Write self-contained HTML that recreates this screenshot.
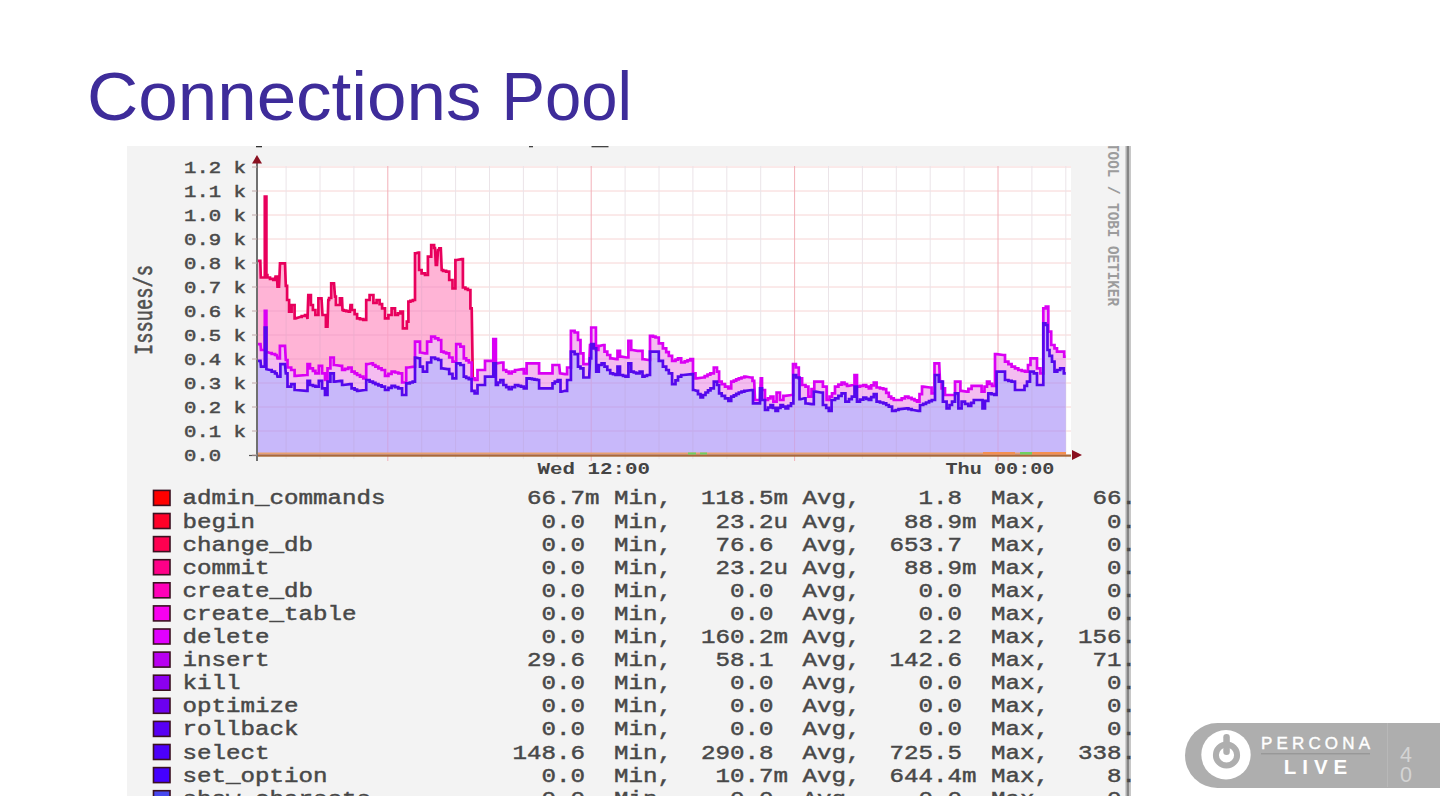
<!DOCTYPE html>
<html><head><meta charset="utf-8"><style>
html,body{margin:0;padding:0;background:#fff;width:1440px;height:811px;overflow:hidden}
svg{position:absolute;left:0;top:0}
.hg{stroke:#f7d4d4;stroke-width:1}
.vg{stroke:#ebe4e8;stroke-width:1}
.vgM{stroke:#f2b0b8;stroke-width:1}
.yl{font-family:"Liberation Mono",monospace;font-size:17px;fill:#4a4a4a;stroke:#4a4a4a;stroke-width:0.5}
.lg{font-family:"Liberation Mono",monospace;font-size:20px;fill:#484848;stroke:#484848;stroke-width:0.45}
.xl{font-family:"Liberation Mono",monospace;font-size:17px;font-weight:bold;fill:#444}
</style></head><body>
<svg width="1440" height="811" viewBox="0 0 1440 811">
<text x="87" y="120" font-family="Liberation Sans" font-size="68" fill="#3e2c9a" textLength="394.5" lengthAdjust="spacingAndGlyphs">Connections</text><text x="501.5" y="120" font-family="Liberation Sans" font-size="68" fill="#3e2c9a" textLength="130.5" lengthAdjust="spacingAndGlyphs">Pool</text>
<clipPath id="cb"><rect x="127" y="146" width="1004" height="650"/></clipPath>
<g clip-path="url(#cb)"><g>
<rect x="127" y="146" width="1004" height="650" fill="#f3f3f3"/>
<rect x="257" y="166" width="814" height="289" fill="#ffffff"/>
<line x1="257" y1="431" x2="1071" y2="431" class="hg"/>
<line x1="257" y1="407" x2="1071" y2="407" class="hg"/>
<line x1="257" y1="383" x2="1071" y2="383" class="hg"/>
<line x1="257" y1="359" x2="1071" y2="359" class="hg"/>
<line x1="257" y1="335" x2="1071" y2="335" class="hg"/>
<line x1="257" y1="311" x2="1071" y2="311" class="hg"/>
<line x1="257" y1="287" x2="1071" y2="287" class="hg"/>
<line x1="257" y1="263" x2="1071" y2="263" class="hg"/>
<line x1="257" y1="239" x2="1071" y2="239" class="hg"/>
<line x1="257" y1="215" x2="1071" y2="215" class="hg"/>
<line x1="257" y1="191" x2="1071" y2="191" class="hg"/>
<line x1="257" y1="167" x2="1071" y2="167" class="hg"/>
<line x1="286.1" y1="166" x2="286.1" y2="459" class="vg"/>
<line x1="320.0" y1="166" x2="320.0" y2="459" class="vg"/>
<line x1="353.9" y1="166" x2="353.9" y2="459" class="vg"/>
<line x1="387.8" y1="166" x2="387.8" y2="461" class="vgM"/>
<line x1="421.7" y1="166" x2="421.7" y2="459" class="vg"/>
<line x1="455.6" y1="166" x2="455.6" y2="459" class="vg"/>
<line x1="489.5" y1="166" x2="489.5" y2="459" class="vg"/>
<line x1="523.4" y1="166" x2="523.4" y2="459" class="vg"/>
<line x1="557.3" y1="166" x2="557.3" y2="459" class="vg"/>
<line x1="591.2" y1="166" x2="591.2" y2="461" class="vgM"/>
<line x1="625.1" y1="166" x2="625.1" y2="459" class="vg"/>
<line x1="659.0" y1="166" x2="659.0" y2="459" class="vg"/>
<line x1="692.9" y1="166" x2="692.9" y2="459" class="vg"/>
<line x1="726.8" y1="166" x2="726.8" y2="459" class="vg"/>
<line x1="760.7" y1="166" x2="760.7" y2="459" class="vg"/>
<line x1="794.6" y1="166" x2="794.6" y2="461" class="vgM"/>
<line x1="828.5" y1="166" x2="828.5" y2="459" class="vg"/>
<line x1="862.4" y1="166" x2="862.4" y2="459" class="vg"/>
<line x1="896.3" y1="166" x2="896.3" y2="459" class="vg"/>
<line x1="930.2" y1="166" x2="930.2" y2="459" class="vg"/>
<line x1="964.1" y1="166" x2="964.1" y2="459" class="vg"/>
<line x1="998.0" y1="166" x2="998.0" y2="461" class="vgM"/>
<line x1="1031.9" y1="166" x2="1031.9" y2="459" class="vg"/>
<line x1="1065.8" y1="166" x2="1065.8" y2="459" class="vg"/>
<polygon points="257.5,455.0 257.5,360.8 260.5,360.8 261.0,366.7 264.8,366.7 264.8,327.5 266.4,327.5 266.4,369.2 270.0,370.0 271.7,370.0 271.7,371.6 275.0,371.6 275.0,373.3 276.7,373.3 277.5,376.7 279.0,376.7 280.4,376.7 280.4,364.2 281.7,364.2 285.0,364.2 285.8,373.3 287.5,373.3 287.5,386.7 289.2,386.7 291.2,386.7 291.2,384.2 293.3,384.2 294.6,384.2 294.6,390.0 295.8,390.0 306.7,390.8 307.5,390.8 307.5,380.8 308.3,380.8 310.0,380.8 310.0,385.0 311.7,385.0 312.9,385.0 312.9,385.9 315.4,385.9 315.4,386.7 316.7,386.7 318.8,386.7 318.8,380.8 320.8,380.8 322.1,380.8 322.1,388.3 323.3,388.3 325.0,388.3 325.0,395.0 326.7,395.0 327.5,395.0 327.5,381.7 328.3,381.7 330.4,381.7 330.4,373.3 332.5,373.3 333.8,373.3 333.8,381.7 335.0,381.7 340.8,380.8 342.1,380.8 342.1,385.0 343.3,385.0 350.0,384.2 351.6,384.2 351.6,388.3 353.3,388.3 354.6,388.3 354.6,389.6 357.1,389.6 357.1,390.8 358.3,390.8 365.0,390.0 366.2,390.0 366.2,380.0 367.5,380.0 369.6,380.0 369.6,381.7 371.7,381.7 372.9,381.7 372.9,382.9 375.4,382.9 375.4,384.2 376.7,384.2 378.4,384.2 378.4,385.4 381.6,385.4 381.6,386.7 383.3,386.7 385.0,386.7 385.0,390.0 386.7,390.0 388.4,390.0 388.4,387.9 391.6,387.9 391.6,385.8 393.3,385.8 395.0,385.8 395.0,387.1 398.3,387.1 398.3,388.3 400.0,388.3 402.1,388.3 402.1,395.0 404.2,395.0 406.2,395.0 406.2,383.3 408.3,383.3 409.8,383.3 409.8,382.5 412.7,382.5 412.7,381.7 414.2,381.7 415.0,381.7 415.0,357.5 415.8,357.5 419.2,358.3 420.0,358.3 420.0,366.7 420.8,366.7 422.9,366.7 422.9,371.7 425.0,371.7 427.1,371.7 427.1,362.5 429.2,362.5 431.2,362.5 431.2,357.5 433.3,357.5 435.0,357.5 435.0,358.8 438.3,358.8 438.3,360.0 440.0,360.0 441.2,360.0 441.2,368.3 442.5,368.3 447.5,369.2 449.2,369.2 449.2,373.8 452.5,373.8 452.5,378.3 454.2,378.3 456.2,378.3 456.2,363.3 458.3,363.3 460.4,363.3 460.4,365.0 462.5,365.0 463.8,365.0 463.8,376.7 465.0,376.7 466.2,376.7 466.2,377.9 468.8,377.9 468.8,379.2 470.0,379.2 471.6,379.2 471.6,390.8 473.3,390.8 474.6,390.8 474.6,393.3 475.8,393.3 477.5,393.3 477.5,385.0 479.2,385.0 483.3,385.0 485.0,385.0 485.0,376.7 486.7,376.7 493.3,376.7 493.3,363.3 495.0,363.3 495.9,363.3 495.9,385.0 496.7,385.0 497.9,385.0 497.9,382.5 500.4,382.5 500.4,380.0 501.7,380.0 503.4,380.0 503.4,385.0 505.0,385.0 506.2,385.0 506.2,387.1 508.8,387.1 508.8,389.2 510.0,389.2 511.7,389.2 511.7,387.1 515.0,387.1 515.0,385.0 516.7,385.0 518.2,385.0 518.2,385.9 521.0,385.9 521.0,386.7 522.5,386.7 523.8,386.7 523.8,388.3 525.0,388.3 526.6,388.3 526.6,378.3 528.3,378.3 529.5,378.3 529.5,378.7 532.0,378.7 532.0,379.1 534.5,379.1 534.5,379.6 537.0,379.6 537.0,380.0 538.3,380.0 539.1,380.0 539.1,388.3 540.0,388.3 551.7,388.3 552.5,388.3 552.5,383.3 553.3,383.3 554.8,383.3 554.8,381.6 557.7,381.6 557.7,380.0 559.2,380.0 560.5,380.0 560.5,391.7 561.7,391.7 565.0,390.8 567.1,390.8 567.1,380.0 569.2,380.0 570.9,380.0 570.9,351.7 572.5,351.7 574.6,351.7 574.6,354.2 576.7,354.2 578.0,354.2 578.0,366.7 579.2,366.7 580.5,366.7 580.5,368.3 581.7,368.3 583.4,368.3 583.4,377.5 585.0,377.5 589.2,377.5 590.0,358.3 591.2,358.3 591.2,344.2 592.5,344.2 593.8,344.2 593.8,348.3 595.0,348.3 596.2,348.3 596.2,371.7 597.5,371.7 598.8,371.7 598.8,365.0 600.0,365.0 601.6,365.0 601.6,363.3 603.3,363.3 604.5,363.3 604.5,366.7 605.8,366.7 607.3,366.7 607.3,370.0 610.2,370.0 610.2,373.3 611.7,373.3 613.0,373.3 613.0,374.1 615.5,374.1 615.5,375.0 616.7,375.0 617.5,375.0 617.5,366.7 618.3,366.7 620.0,366.7 620.0,375.0 621.7,375.0 623.0,375.0 623.0,375.9 625.5,375.9 625.5,376.7 626.7,376.7 628.4,376.7 628.4,363.3 630.0,363.3 631.2,363.3 631.2,371.7 632.5,371.7 633.8,371.7 633.8,372.5 636.2,372.5 636.2,373.3 637.5,373.3 639.6,373.3 639.6,371.7 641.7,371.7 642.5,371.7 642.5,376.7 643.3,376.7 644.5,376.7 644.5,375.9 647.0,375.9 647.0,375.0 648.3,375.0 650.0,375.0 650.0,351.7 651.7,351.7 656.7,351.7 658.8,351.7 658.8,360.8 660.8,360.8 662.9,360.8 662.9,366.7 665.0,366.7 666.2,366.7 666.2,370.0 668.8,370.0 668.8,373.3 670.0,373.3 672.1,373.3 672.1,384.2 674.2,384.2 675.5,384.2 675.5,380.4 678.0,380.4 678.0,376.7 679.2,376.7 681.2,376.7 681.2,375.0 683.3,375.0 691.7,374.2 693.0,374.2 693.0,390.0 694.2,390.0 696.7,390.8 698.0,390.8 698.0,394.1 700.5,394.1 700.5,397.5 701.7,397.5 703.0,397.5 703.0,395.0 705.5,395.0 705.5,392.5 706.7,392.5 708.0,392.5 708.0,390.4 710.5,390.4 710.5,388.3 711.7,388.3 713.8,388.3 713.8,381.7 715.8,381.7 717.0,381.7 717.0,385.0 718.3,385.0 719.1,385.0 719.1,393.3 720.0,393.3 721.7,393.3 721.7,395.8 725.0,395.8 725.0,398.3 726.7,398.3 728.4,398.3 728.4,400.8 730.0,400.8 731.2,400.8 731.2,396.7 732.5,396.7 733.8,396.7 733.8,395.3 736.2,395.3 736.2,393.9 738.8,393.9 738.8,392.5 740.0,392.5 741.5,392.5 741.5,391.6 744.3,391.6 744.3,390.8 745.8,390.8 751.7,390.0 753.0,390.0 753.0,403.3 754.2,403.3 759.2,403.3 760.0,403.3 760.0,388.3 760.8,388.3 762.0,388.3 762.0,400.0 763.3,400.0 765.0,400.0 765.0,410.0 766.7,410.0 768.0,410.0 768.0,407.5 770.5,407.5 770.5,405.0 771.7,405.0 773.0,405.0 773.0,407.9 775.5,407.9 775.5,410.8 776.7,410.8 778.0,410.8 778.0,407.9 780.5,407.9 780.5,405.0 781.7,405.0 783.0,405.0 783.0,406.6 785.5,406.6 785.5,408.3 786.7,408.3 788.2,408.3 788.2,405.8 791.0,405.8 791.0,403.3 792.5,403.3 793.4,403.3 793.4,375.0 794.2,375.0 796.2,375.0 796.2,377.5 798.3,377.5 799.5,377.5 799.5,399.2 800.8,399.2 804.2,398.3 805.5,398.3 805.5,403.3 806.7,403.3 811.7,404.2 813.8,404.2 813.8,391.7 815.8,391.7 820.8,392.5 822.9,392.5 822.9,405.0 825.0,405.0 826.2,405.0 826.2,407.9 828.8,407.9 828.8,410.8 830.0,410.8 831.6,410.8 831.6,400.0 833.3,400.0 835.0,400.0 835.0,398.3 836.7,398.3 838.4,398.3 838.4,395.8 841.6,395.8 841.6,393.3 843.3,393.3 845.4,393.3 845.4,401.7 847.5,401.7 849.0,401.7 849.0,399.2 851.8,399.2 851.8,396.7 853.3,396.7 854.5,396.7 854.5,386.7 855.8,386.7 857.0,386.7 857.0,401.7 858.3,401.7 860.0,401.7 860.0,399.6 863.3,399.6 863.3,397.5 865.0,397.5 866.2,397.5 866.2,398.8 868.8,398.8 868.8,400.0 870.0,400.0 871.2,400.0 871.2,397.1 873.8,397.1 873.8,394.2 875.0,394.2 876.6,394.2 876.6,401.7 878.3,401.7 880.0,401.7 880.0,402.5 883.3,402.5 883.3,403.3 885.0,403.3 886.2,403.3 886.2,405.0 888.8,405.0 888.8,406.7 890.0,406.7 892.1,406.7 892.1,410.8 894.2,410.8 895.7,410.8 895.7,410.0 898.5,410.0 898.5,409.2 900.0,409.2 906.7,408.3 908.4,408.3 908.4,409.1 911.6,409.1 911.6,410.0 913.3,410.0 918.3,410.8 920.0,410.8 920.0,405.0 921.7,405.0 923.2,405.0 923.2,403.8 926.0,403.8 926.0,402.5 929.0,402.5 929.0,401.2 931.8,401.2 931.8,400.0 933.3,400.0 935.0,400.0 935.0,375.0 936.7,375.0 938.8,375.0 938.8,381.7 940.8,381.7 942.9,381.7 942.9,401.7 945.0,401.7 946.6,401.7 946.6,408.3 948.3,408.3 949.5,408.3 949.5,405.0 952.0,405.0 952.0,401.7 953.3,401.7 955.0,401.7 955.0,393.3 956.7,393.3 958.4,393.3 958.4,408.3 960.0,408.3 961.6,408.3 961.6,401.7 963.3,401.7 965.0,401.7 965.0,403.8 968.3,403.8 968.3,405.8 970.0,405.8 971.2,405.8 971.2,402.9 973.8,402.9 973.8,400.0 975.0,400.0 981.7,400.0 982.5,400.0 982.5,408.3 983.3,408.3 985.0,408.3 985.0,400.8 988.3,400.8 988.3,393.3 990.0,393.3 991.5,393.3 991.5,394.1 994.3,394.1 994.3,395.0 995.8,395.0 996.6,395.0 996.6,371.7 997.5,371.7 1003.3,371.7 1005.0,371.7 1005.0,380.0 1006.7,380.0 1008.4,380.0 1008.4,380.9 1011.6,380.9 1011.6,381.7 1013.3,381.7 1015.0,381.7 1015.0,390.0 1016.7,390.0 1023.3,390.0 1024.5,390.0 1024.5,385.9 1027.0,385.9 1027.0,381.7 1028.3,381.7 1030.0,381.7 1030.0,371.7 1031.7,371.7 1033.8,371.7 1033.8,373.3 1035.8,373.3 1037.0,373.3 1037.0,385.0 1038.3,385.0 1042.5,385.0 1043.3,385.0 1043.3,323.3 1044.2,323.3 1045.5,323.3 1045.5,325.0 1046.7,325.0 1047.5,325.0 1047.5,350.0 1048.3,350.0 1049.5,350.0 1049.5,355.9 1052.0,355.9 1052.0,361.7 1053.3,361.7 1054.5,361.7 1054.5,371.7 1055.8,371.7 1057.3,371.7 1057.3,370.0 1060.2,370.0 1060.2,368.3 1061.7,368.3 1063.8,368.3 1063.8,373.3 1065.8,373.3 1065.8,455.0" fill="#c8b8fb"/>
<polygon points="257.5,344.2 260.5,344.2 261.0,350.0 264.8,350.0 264.8,310.8 266.4,310.8 266.4,351.7 270.0,353.0 271.7,353.0 271.7,354.0 275.0,354.0 275.0,355.0 276.7,355.0 277.5,358.3 279.0,358.3 279.9,358.3 279.9,345.8 280.8,345.8 285.0,345.8 285.8,360.0 287.5,360.0 287.5,367.5 289.2,367.5 291.2,367.5 291.2,370.0 293.3,370.0 294.6,370.0 294.6,375.8 295.8,375.8 306.7,375.0 307.5,375.0 307.5,364.2 308.3,364.2 310.0,364.2 310.0,368.3 311.7,368.3 312.9,368.3 312.9,370.8 315.4,370.8 315.4,373.3 316.7,373.3 318.8,373.3 318.8,365.8 320.8,365.8 322.1,365.8 322.1,373.3 323.3,373.3 325.0,373.3 325.0,380.0 326.7,380.0 327.5,380.0 327.5,368.3 328.3,368.3 330.4,368.3 330.4,357.5 332.5,357.5 333.8,357.5 333.8,365.0 335.0,365.0 340.8,365.8 342.1,365.8 342.1,370.0 343.3,370.0 345.0,370.0 345.0,368.8 348.3,368.8 348.3,367.5 350.0,367.5 351.6,367.5 351.6,371.7 353.3,371.7 354.6,371.7 354.6,373.4 357.1,373.4 357.1,375.0 358.3,375.0 360.0,375.0 360.0,376.6 363.3,376.6 363.3,378.3 365.0,378.3 366.2,378.3 366.2,364.2 367.5,364.2 371.7,363.3 372.9,363.3 372.9,365.0 375.4,365.0 375.4,366.7 376.7,366.7 378.4,366.7 378.4,368.4 381.6,368.4 381.6,370.0 383.3,370.0 385.0,370.0 385.0,375.8 386.7,375.8 388.4,375.8 388.4,373.8 391.6,373.8 391.6,371.7 393.3,371.7 395.0,371.7 395.0,372.5 398.3,372.5 398.3,373.3 400.0,373.3 402.1,373.3 402.1,382.5 404.2,382.5 406.2,382.5 406.2,367.5 408.3,367.5 414.2,366.7 415.0,366.7 415.0,341.7 415.8,341.7 419.2,341.7 420.0,341.7 420.0,352.5 420.8,352.5 425.0,353.3 427.1,353.3 427.1,341.7 429.2,341.7 431.2,341.7 431.2,336.7 433.3,336.7 435.0,336.7 435.0,338.4 438.3,338.4 438.3,340.0 440.0,340.0 441.2,340.0 441.2,351.7 442.5,351.7 443.8,351.7 443.8,352.5 446.2,352.5 446.2,353.3 447.5,353.3 449.2,353.3 449.2,357.5 452.5,357.5 452.5,361.7 454.2,361.7 456.2,361.7 456.2,344.2 458.3,344.2 460.4,344.2 460.4,346.7 462.5,346.7 463.8,346.7 463.8,358.3 465.0,358.3 466.2,358.3 466.2,360.4 468.8,360.4 468.8,362.5 470.0,362.5 471.6,362.5 471.6,378.3 473.3,378.3 474.6,378.3 474.6,380.0 475.8,380.0 477.5,380.0 477.5,370.0 479.2,370.0 483.3,370.0 485.0,370.0 485.0,360.8 486.7,360.8 493.3,360.8 493.3,339.2 495.0,339.2 495.9,339.2 495.9,363.3 496.7,363.3 501.7,362.5 503.4,362.5 503.4,370.0 505.0,370.0 506.2,370.0 506.2,371.6 508.8,371.6 508.8,373.3 510.0,373.3 511.7,373.3 511.7,371.6 515.0,371.6 515.0,370.0 516.7,370.0 522.5,369.2 523.8,369.2 523.8,373.3 525.0,373.3 526.6,373.3 526.6,363.3 528.3,363.3 538.3,363.3 539.1,363.3 539.1,373.3 540.0,373.3 551.7,373.3 552.5,373.3 552.5,365.0 553.3,365.0 559.2,365.0 560.0,373.3 565.0,374.2 567.1,374.2 567.1,367.5 569.2,367.5 570.9,367.5 570.9,330.8 572.5,330.8 574.6,330.8 574.6,332.5 576.7,332.5 578.0,332.5 578.0,340.0 579.2,340.0 580.5,340.0 580.5,353.3 581.7,353.3 583.4,353.3 583.4,364.2 585.0,364.2 589.2,364.2 590.0,345.0 591.2,345.0 591.2,327.5 592.5,327.5 595.0,327.5 595.9,327.5 595.9,350.0 596.7,350.0 598.4,350.0 598.4,345.8 600.0,345.8 603.3,345.0 604.5,345.0 604.5,351.7 605.8,351.7 607.3,351.7 607.3,355.0 610.2,355.0 610.2,358.3 611.7,358.3 616.7,359.2 617.5,359.2 617.5,350.8 618.3,350.8 620.0,350.8 620.0,356.7 621.7,356.7 626.7,357.5 628.4,357.5 628.4,340.8 630.0,340.8 631.2,340.8 631.2,350.0 632.5,350.0 637.5,350.8 641.7,350.8 642.5,350.8 642.5,359.2 643.3,359.2 648.3,360.0 650.0,360.0 650.0,335.8 651.7,335.8 653.0,335.8 653.0,336.6 655.5,336.6 655.5,337.5 656.7,337.5 658.8,337.5 658.8,343.3 660.8,343.3 662.9,343.3 662.9,348.3 665.0,348.3 666.2,348.3 666.2,352.1 668.8,352.1 668.8,355.8 670.0,355.8 672.1,355.8 672.1,360.8 674.2,360.8 675.5,360.8 675.5,359.6 678.0,359.6 678.0,358.3 679.2,358.3 681.2,358.3 681.2,362.5 683.3,362.5 684.7,362.5 684.7,361.4 687.5,361.4 687.5,360.3 690.3,360.3 690.3,359.2 691.7,359.2 693.0,359.2 693.0,373.3 694.2,373.3 695.5,373.3 695.5,378.3 696.7,378.3 703.3,377.5 704.7,377.5 704.7,376.1 707.5,376.1 707.5,374.7 710.3,374.7 710.3,373.3 711.7,373.3 713.8,373.3 713.8,367.5 715.8,367.5 717.0,367.5 717.0,371.7 718.3,371.7 719.1,371.7 719.1,381.7 720.0,381.7 721.7,381.7 721.7,384.2 725.0,384.2 725.0,386.7 726.7,386.7 728.4,386.7 728.4,388.3 730.0,388.3 731.2,388.3 731.2,381.7 732.5,381.7 733.8,381.7 733.8,380.6 736.2,380.6 736.2,379.4 738.8,379.4 738.8,378.3 740.0,378.3 741.5,378.3 741.5,377.5 744.3,377.5 744.3,376.7 745.8,376.7 750.8,377.5 752.5,377.5 752.5,380.8 754.2,380.8 755.0,400.0 760.0,400.0 760.8,378.3 762.0,378.3 762.0,390.0 763.3,390.0 765.0,390.0 765.0,400.0 766.7,400.0 768.0,400.0 768.0,398.4 770.5,398.4 770.5,396.7 771.7,396.7 773.4,396.7 773.4,401.7 775.0,401.7 776.6,401.7 776.6,392.5 778.3,392.5 780.0,392.5 780.0,400.0 781.7,400.0 783.4,400.0 783.4,395.8 785.0,395.8 791.7,395.0 793.0,395.0 793.0,364.2 794.2,364.2 795.9,364.2 795.9,367.5 797.5,367.5 798.8,367.5 798.8,378.3 800.0,378.3 802.1,378.3 802.1,385.0 804.2,385.0 805.5,385.0 805.5,386.7 806.7,386.7 808.4,386.7 808.4,396.7 810.0,396.7 811.5,396.7 811.5,389.2 814.3,389.2 814.3,381.7 815.8,381.7 820.8,381.7 822.9,381.7 822.9,386.7 825.0,386.7 826.6,386.7 826.6,400.0 828.3,400.0 829.5,400.0 829.5,396.6 832.0,396.6 832.0,393.3 833.3,393.3 835.0,393.3 835.0,386.7 836.7,386.7 838.4,386.7 838.4,384.6 841.6,384.6 841.6,382.5 843.3,382.5 844.5,382.5 844.5,384.1 847.0,384.1 847.0,385.8 848.3,385.8 853.3,385.0 854.5,385.0 854.5,375.0 855.8,375.0 857.0,375.0 857.0,386.7 858.3,386.7 860.0,386.7 860.0,385.9 863.3,385.9 863.3,385.0 865.0,385.0 866.2,385.0 866.2,386.6 868.8,386.6 868.8,388.3 870.0,388.3 871.2,388.3 871.2,385.4 873.8,385.4 873.8,382.5 875.0,382.5 876.6,382.5 876.6,387.5 878.3,387.5 880.0,387.5 880.0,388.4 883.3,388.4 883.3,389.2 885.0,389.2 886.2,389.2 886.2,392.9 888.8,392.9 888.8,396.7 890.0,396.7 891.2,396.7 891.2,398.4 893.8,398.4 893.8,400.0 895.0,400.0 900.0,400.0 901.7,400.0 901.7,398.4 905.0,398.4 905.0,396.7 906.7,396.7 908.4,396.7 908.4,397.9 911.6,397.9 911.6,399.2 913.3,399.2 914.5,399.2 914.5,400.4 917.0,400.4 917.0,401.7 918.3,401.7 919.5,401.7 919.5,394.2 922.0,394.2 922.0,386.7 923.3,386.7 930.0,387.5 931.6,387.5 931.6,393.3 933.3,393.3 934.5,393.3 934.5,363.3 935.8,363.3 939.2,363.3 940.0,381.7 941.6,381.7 941.6,388.3 943.3,388.3 945.0,388.3 945.0,395.0 946.7,395.0 953.3,395.0 955.0,395.0 955.0,381.7 956.7,381.7 959.0,381.7 960.4,381.7 960.4,390.8 961.7,390.8 966.7,391.7 968.4,391.7 968.4,388.8 971.6,388.8 971.6,385.8 973.3,385.8 980.0,385.8 981.6,385.8 981.6,391.7 983.3,391.7 984.5,391.7 984.5,386.7 987.0,386.7 987.0,381.7 988.3,381.7 989.5,381.7 989.5,383.8 992.0,383.8 992.0,385.8 993.3,385.8 995.0,385.8 995.0,354.2 996.7,354.2 1003.3,355.0 1005.0,355.0 1005.0,361.7 1006.7,361.7 1008.4,361.7 1008.4,364.2 1011.6,364.2 1011.6,366.7 1013.3,366.7 1015.0,366.7 1015.0,368.4 1018.3,368.4 1018.3,370.0 1020.0,370.0 1021.7,370.0 1021.7,370.9 1025.0,370.9 1025.0,371.7 1026.7,371.7 1028.0,371.7 1028.0,365.0 1030.5,365.0 1030.5,358.3 1031.7,358.3 1035.8,358.3 1037.0,358.3 1037.0,368.3 1038.3,368.3 1040.4,368.3 1040.4,373.3 1042.5,373.3 1043.3,373.3 1043.3,308.3 1044.2,308.3 1045.8,308.3 1045.8,306.7 1047.5,306.7 1048.3,306.7 1048.3,331.7 1049.2,331.7 1051.2,331.7 1051.2,345.0 1053.3,345.0 1054.5,345.0 1054.5,348.4 1057.0,348.4 1057.0,351.7 1058.3,351.7 1062.5,351.7 1064.2,351.7 1064.2,356.7 1065.8,356.7 1065.8,373.3 1063.8,373.3 1063.8,368.3 1061.7,368.3 1060.2,368.3 1060.2,370.0 1057.3,370.0 1057.3,371.7 1055.8,371.7 1054.5,371.7 1054.5,361.7 1053.3,361.7 1052.0,361.7 1052.0,355.9 1049.5,355.9 1049.5,350.0 1048.3,350.0 1047.5,350.0 1047.5,325.0 1046.7,325.0 1045.5,325.0 1045.5,323.3 1044.2,323.3 1043.3,323.3 1043.3,385.0 1042.5,385.0 1038.3,385.0 1037.0,385.0 1037.0,373.3 1035.8,373.3 1033.8,373.3 1033.8,371.7 1031.7,371.7 1030.0,371.7 1030.0,381.7 1028.3,381.7 1027.0,381.7 1027.0,385.9 1024.5,385.9 1024.5,390.0 1023.3,390.0 1016.7,390.0 1015.0,390.0 1015.0,381.7 1013.3,381.7 1011.6,381.7 1011.6,380.9 1008.4,380.9 1008.4,380.0 1006.7,380.0 1005.0,380.0 1005.0,371.7 1003.3,371.7 997.5,371.7 996.6,371.7 996.6,395.0 995.8,395.0 994.3,395.0 994.3,394.1 991.5,394.1 991.5,393.3 990.0,393.3 988.3,393.3 988.3,400.8 985.0,400.8 985.0,408.3 983.3,408.3 982.5,408.3 982.5,400.0 981.7,400.0 975.0,400.0 973.8,400.0 973.8,402.9 971.2,402.9 971.2,405.8 970.0,405.8 968.3,405.8 968.3,403.8 965.0,403.8 965.0,401.7 963.3,401.7 961.6,401.7 961.6,408.3 960.0,408.3 958.4,408.3 958.4,393.3 956.7,393.3 955.0,393.3 955.0,401.7 953.3,401.7 952.0,401.7 952.0,405.0 949.5,405.0 949.5,408.3 948.3,408.3 946.6,408.3 946.6,401.7 945.0,401.7 942.9,401.7 942.9,381.7 940.8,381.7 938.8,381.7 938.8,375.0 936.7,375.0 935.0,375.0 935.0,400.0 933.3,400.0 931.8,400.0 931.8,401.2 929.0,401.2 929.0,402.5 926.0,402.5 926.0,403.8 923.2,403.8 923.2,405.0 921.7,405.0 920.0,405.0 920.0,410.8 918.3,410.8 913.3,410.0 911.6,410.0 911.6,409.1 908.4,409.1 908.4,408.3 906.7,408.3 900.0,409.2 898.5,409.2 898.5,410.0 895.7,410.0 895.7,410.8 894.2,410.8 892.1,410.8 892.1,406.7 890.0,406.7 888.8,406.7 888.8,405.0 886.2,405.0 886.2,403.3 885.0,403.3 883.3,403.3 883.3,402.5 880.0,402.5 880.0,401.7 878.3,401.7 876.6,401.7 876.6,394.2 875.0,394.2 873.8,394.2 873.8,397.1 871.2,397.1 871.2,400.0 870.0,400.0 868.8,400.0 868.8,398.8 866.2,398.8 866.2,397.5 865.0,397.5 863.3,397.5 863.3,399.6 860.0,399.6 860.0,401.7 858.3,401.7 857.0,401.7 857.0,386.7 855.8,386.7 854.5,386.7 854.5,396.7 853.3,396.7 851.8,396.7 851.8,399.2 849.0,399.2 849.0,401.7 847.5,401.7 845.4,401.7 845.4,393.3 843.3,393.3 841.6,393.3 841.6,395.8 838.4,395.8 838.4,398.3 836.7,398.3 835.0,398.3 835.0,400.0 833.3,400.0 831.6,400.0 831.6,410.8 830.0,410.8 828.8,410.8 828.8,407.9 826.2,407.9 826.2,405.0 825.0,405.0 822.9,405.0 822.9,392.5 820.8,392.5 815.8,391.7 813.8,391.7 813.8,404.2 811.7,404.2 806.7,403.3 805.5,403.3 805.5,398.3 804.2,398.3 800.8,399.2 799.5,399.2 799.5,377.5 798.3,377.5 796.2,377.5 796.2,375.0 794.2,375.0 793.4,375.0 793.4,403.3 792.5,403.3 791.0,403.3 791.0,405.8 788.2,405.8 788.2,408.3 786.7,408.3 785.5,408.3 785.5,406.6 783.0,406.6 783.0,405.0 781.7,405.0 780.5,405.0 780.5,407.9 778.0,407.9 778.0,410.8 776.7,410.8 775.5,410.8 775.5,407.9 773.0,407.9 773.0,405.0 771.7,405.0 770.5,405.0 770.5,407.5 768.0,407.5 768.0,410.0 766.7,410.0 765.0,410.0 765.0,400.0 763.3,400.0 762.0,400.0 762.0,388.3 760.8,388.3 760.0,388.3 760.0,403.3 759.2,403.3 754.2,403.3 753.0,403.3 753.0,390.0 751.7,390.0 745.8,390.8 744.3,390.8 744.3,391.6 741.5,391.6 741.5,392.5 740.0,392.5 738.8,392.5 738.8,393.9 736.2,393.9 736.2,395.3 733.8,395.3 733.8,396.7 732.5,396.7 731.2,396.7 731.2,400.8 730.0,400.8 728.4,400.8 728.4,398.3 726.7,398.3 725.0,398.3 725.0,395.8 721.7,395.8 721.7,393.3 720.0,393.3 719.1,393.3 719.1,385.0 718.3,385.0 717.0,385.0 717.0,381.7 715.8,381.7 713.8,381.7 713.8,388.3 711.7,388.3 710.5,388.3 710.5,390.4 708.0,390.4 708.0,392.5 706.7,392.5 705.5,392.5 705.5,395.0 703.0,395.0 703.0,397.5 701.7,397.5 700.5,397.5 700.5,394.1 698.0,394.1 698.0,390.8 696.7,390.8 694.2,390.0 693.0,390.0 693.0,374.2 691.7,374.2 683.3,375.0 681.2,375.0 681.2,376.7 679.2,376.7 678.0,376.7 678.0,380.4 675.5,380.4 675.5,384.2 674.2,384.2 672.1,384.2 672.1,373.3 670.0,373.3 668.8,373.3 668.8,370.0 666.2,370.0 666.2,366.7 665.0,366.7 662.9,366.7 662.9,360.8 660.8,360.8 658.8,360.8 658.8,351.7 656.7,351.7 651.7,351.7 650.0,351.7 650.0,375.0 648.3,375.0 647.0,375.0 647.0,375.9 644.5,375.9 644.5,376.7 643.3,376.7 642.5,376.7 642.5,371.7 641.7,371.7 639.6,371.7 639.6,373.3 637.5,373.3 636.2,373.3 636.2,372.5 633.8,372.5 633.8,371.7 632.5,371.7 631.2,371.7 631.2,363.3 630.0,363.3 628.4,363.3 628.4,376.7 626.7,376.7 625.5,376.7 625.5,375.9 623.0,375.9 623.0,375.0 621.7,375.0 620.0,375.0 620.0,366.7 618.3,366.7 617.5,366.7 617.5,375.0 616.7,375.0 615.5,375.0 615.5,374.1 613.0,374.1 613.0,373.3 611.7,373.3 610.2,373.3 610.2,370.0 607.3,370.0 607.3,366.7 605.8,366.7 604.5,366.7 604.5,363.3 603.3,363.3 601.6,363.3 601.6,365.0 600.0,365.0 598.8,365.0 598.8,371.7 597.5,371.7 596.2,371.7 596.2,348.3 595.0,348.3 593.8,348.3 593.8,344.2 592.5,344.2 591.2,344.2 591.2,358.3 590.0,358.3 589.2,377.5 585.0,377.5 583.4,377.5 583.4,368.3 581.7,368.3 580.5,368.3 580.5,366.7 579.2,366.7 578.0,366.7 578.0,354.2 576.7,354.2 574.6,354.2 574.6,351.7 572.5,351.7 570.9,351.7 570.9,380.0 569.2,380.0 567.1,380.0 567.1,390.8 565.0,390.8 561.7,391.7 560.5,391.7 560.5,380.0 559.2,380.0 557.7,380.0 557.7,381.6 554.8,381.6 554.8,383.3 553.3,383.3 552.5,383.3 552.5,388.3 551.7,388.3 540.0,388.3 539.1,388.3 539.1,380.0 538.3,380.0 537.0,380.0 537.0,379.6 534.5,379.6 534.5,379.1 532.0,379.1 532.0,378.7 529.5,378.7 529.5,378.3 528.3,378.3 526.6,378.3 526.6,388.3 525.0,388.3 523.8,388.3 523.8,386.7 522.5,386.7 521.0,386.7 521.0,385.9 518.2,385.9 518.2,385.0 516.7,385.0 515.0,385.0 515.0,387.1 511.7,387.1 511.7,389.2 510.0,389.2 508.8,389.2 508.8,387.1 506.2,387.1 506.2,385.0 505.0,385.0 503.4,385.0 503.4,380.0 501.7,380.0 500.4,380.0 500.4,382.5 497.9,382.5 497.9,385.0 496.7,385.0 495.9,385.0 495.9,363.3 495.0,363.3 493.3,363.3 493.3,376.7 486.7,376.7 485.0,376.7 485.0,385.0 483.3,385.0 479.2,385.0 477.5,385.0 477.5,393.3 475.8,393.3 474.6,393.3 474.6,390.8 473.3,390.8 471.6,390.8 471.6,379.2 470.0,379.2 468.8,379.2 468.8,377.9 466.2,377.9 466.2,376.7 465.0,376.7 463.8,376.7 463.8,365.0 462.5,365.0 460.4,365.0 460.4,363.3 458.3,363.3 456.2,363.3 456.2,378.3 454.2,378.3 452.5,378.3 452.5,373.8 449.2,373.8 449.2,369.2 447.5,369.2 442.5,368.3 441.2,368.3 441.2,360.0 440.0,360.0 438.3,360.0 438.3,358.8 435.0,358.8 435.0,357.5 433.3,357.5 431.2,357.5 431.2,362.5 429.2,362.5 427.1,362.5 427.1,371.7 425.0,371.7 422.9,371.7 422.9,366.7 420.8,366.7 420.0,366.7 420.0,358.3 419.2,358.3 415.8,357.5 415.0,357.5 415.0,381.7 414.2,381.7 412.7,381.7 412.7,382.5 409.8,382.5 409.8,383.3 408.3,383.3 406.2,383.3 406.2,395.0 404.2,395.0 402.1,395.0 402.1,388.3 400.0,388.3 398.3,388.3 398.3,387.1 395.0,387.1 395.0,385.8 393.3,385.8 391.6,385.8 391.6,387.9 388.4,387.9 388.4,390.0 386.7,390.0 385.0,390.0 385.0,386.7 383.3,386.7 381.6,386.7 381.6,385.4 378.4,385.4 378.4,384.2 376.7,384.2 375.4,384.2 375.4,382.9 372.9,382.9 372.9,381.7 371.7,381.7 369.6,381.7 369.6,380.0 367.5,380.0 366.2,380.0 366.2,390.0 365.0,390.0 358.3,390.8 357.1,390.8 357.1,389.6 354.6,389.6 354.6,388.3 353.3,388.3 351.6,388.3 351.6,384.2 350.0,384.2 343.3,385.0 342.1,385.0 342.1,380.8 340.8,380.8 335.0,381.7 333.8,381.7 333.8,373.3 332.5,373.3 330.4,373.3 330.4,381.7 328.3,381.7 327.5,381.7 327.5,395.0 326.7,395.0 325.0,395.0 325.0,388.3 323.3,388.3 322.1,388.3 322.1,380.8 320.8,380.8 318.8,380.8 318.8,386.7 316.7,386.7 315.4,386.7 315.4,385.9 312.9,385.9 312.9,385.0 311.7,385.0 310.0,385.0 310.0,380.8 308.3,380.8 307.5,380.8 307.5,390.8 306.7,390.8 295.8,390.0 294.6,390.0 294.6,384.2 293.3,384.2 291.2,384.2 291.2,386.7 289.2,386.7 287.5,386.7 287.5,373.3 285.8,373.3 285.0,364.2 281.7,364.2 280.4,364.2 280.4,376.7 279.0,376.7 277.5,376.7 276.7,373.3 275.0,373.3 275.0,371.6 271.7,371.6 271.7,370.0 270.0,370.0 266.4,369.2 266.4,327.5 264.8,327.5 264.8,366.7 261.0,366.7 260.5,360.8 257.5,360.8" fill="#f4bcf0"/>
<polygon points="257.5,260.8 260.3,260.8 260.8,277.5 264.8,277.5 264.8,196.7 266.4,196.7 266.4,275.0 267.4,275.0 267.4,277.5 268.3,277.5 270.0,277.5 270.0,278.8 273.3,278.8 273.3,280.0 275.0,280.0 275.5,276.7 277.0,276.7 277.5,286.7 279.0,286.7 279.5,276.0 280.0,263.3 285.0,263.3 285.8,285.8 287.1,285.8 287.1,300.0 288.3,300.0 289.1,300.0 289.1,311.7 290.0,311.7 291.6,311.7 291.6,305.0 293.3,305.0 294.6,305.0 294.6,318.3 295.8,318.3 300.0,317.0 301.7,317.0 301.7,316.0 305.0,316.0 305.0,315.0 306.7,315.0 307.5,319.0 308.3,295.0 310.0,295.0 310.9,295.0 310.9,305.0 311.7,305.0 312.9,305.0 312.9,310.0 315.4,310.0 315.4,315.0 316.7,315.0 318.4,315.0 318.4,298.3 320.0,298.3 321.5,298.3 322.5,315.0 325.0,315.0 325.9,315.0 325.9,326.7 326.7,326.7 327.5,326.7 328.3,300.0 329.1,300.0 329.1,298.0 330.0,298.0 331.2,298.0 331.2,283.3 332.5,283.3 334.0,283.3 335.0,296.7 335.9,296.7 335.9,305.0 336.7,305.0 339.0,305.0 339.9,305.0 339.9,298.3 340.8,298.3 342.0,298.3 342.5,310.0 343.8,310.0 343.8,310.6 346.2,310.6 346.2,311.1 348.8,311.1 348.8,311.7 350.0,311.7 350.5,305.0 351.9,305.0 351.9,310.0 353.3,310.0 354.6,310.0 354.6,314.1 357.1,314.1 357.1,318.3 358.3,318.3 360.0,318.3 360.0,319.1 363.3,319.1 363.3,320.0 365.0,320.0 366.2,320.0 366.2,300.0 367.5,300.0 369.6,300.0 369.6,295.0 371.7,295.0 373.4,295.0 373.4,303.0 375.0,303.0 376.6,303.0 376.6,300.0 378.3,300.0 379.6,300.0 379.6,304.1 382.1,304.1 382.1,308.3 383.3,308.3 385.0,308.3 385.0,318.3 386.7,318.3 388.4,318.3 388.4,315.0 390.0,315.0 391.6,315.0 391.6,308.3 393.3,308.3 395.0,308.3 395.0,315.0 396.7,315.0 397.9,315.0 397.9,313.4 400.4,313.4 400.4,311.7 401.7,311.7 402.9,311.7 402.9,328.3 404.2,328.3 406.0,328.3 406.8,328.3 406.8,321.7 407.5,321.7 408.4,321.7 408.4,301.7 409.2,301.7 410.4,301.7 410.4,300.9 412.9,300.9 412.9,300.0 414.2,300.0 415.0,300.0 415.0,253.3 415.8,253.3 418.3,252.5 419.1,252.5 419.1,270.0 420.0,270.0 421.6,270.0 421.6,273.3 423.3,273.3 425.0,273.3 425.0,275.0 426.7,275.0 427.9,275.0 427.9,256.7 429.2,256.7 431.2,256.7 431.2,245.0 433.3,245.0 434.1,245.0 434.1,248.0 435.0,248.0 435.8,265.0 437.0,265.0 438.0,250.0 439.4,250.0 439.4,248.3 440.8,248.3 441.7,270.0 443.1,270.0 443.1,270.9 446.1,270.9 446.1,271.7 447.5,271.7 449.2,271.7 449.2,280.0 452.5,280.0 452.5,288.3 454.2,288.3 455.4,288.3 455.4,260.0 456.7,260.0 461.7,259.2 462.9,259.2 462.9,287.5 464.2,287.5 465.4,287.5 465.4,288.8 467.9,288.8 467.9,290.0 469.2,290.0 470.4,290.0 470.4,308.3 471.7,308.3 472.8,378.5 473.3,378.3 471.6,378.3 471.6,362.5 470.0,362.5 468.8,362.5 468.8,360.4 466.2,360.4 466.2,358.3 465.0,358.3 463.8,358.3 463.8,346.7 462.5,346.7 460.4,346.7 460.4,344.2 458.3,344.2 456.2,344.2 456.2,361.7 454.2,361.7 452.5,361.7 452.5,357.5 449.2,357.5 449.2,353.3 447.5,353.3 446.2,353.3 446.2,352.5 443.8,352.5 443.8,351.7 442.5,351.7 441.2,351.7 441.2,340.0 440.0,340.0 438.3,340.0 438.3,338.4 435.0,338.4 435.0,336.7 433.3,336.7 431.2,336.7 431.2,341.7 429.2,341.7 427.1,341.7 427.1,353.3 425.0,353.3 420.8,352.5 420.0,352.5 420.0,341.7 419.2,341.7 415.8,341.7 415.0,341.7 415.0,366.7 414.2,366.7 408.3,367.5 406.2,367.5 406.2,382.5 404.2,382.5 402.1,382.5 402.1,373.3 400.0,373.3 398.3,373.3 398.3,372.5 395.0,372.5 395.0,371.7 393.3,371.7 391.6,371.7 391.6,373.8 388.4,373.8 388.4,375.8 386.7,375.8 385.0,375.8 385.0,370.0 383.3,370.0 381.6,370.0 381.6,368.4 378.4,368.4 378.4,366.7 376.7,366.7 375.4,366.7 375.4,365.0 372.9,365.0 372.9,363.3 371.7,363.3 367.5,364.2 366.2,364.2 366.2,378.3 365.0,378.3 363.3,378.3 363.3,376.6 360.0,376.6 360.0,375.0 358.3,375.0 357.1,375.0 357.1,373.4 354.6,373.4 354.6,371.7 353.3,371.7 351.6,371.7 351.6,367.5 350.0,367.5 348.3,367.5 348.3,368.8 345.0,368.8 345.0,370.0 343.3,370.0 342.1,370.0 342.1,365.8 340.8,365.8 335.0,365.0 333.8,365.0 333.8,357.5 332.5,357.5 330.4,357.5 330.4,368.3 328.3,368.3 327.5,368.3 327.5,380.0 326.7,380.0 325.0,380.0 325.0,373.3 323.3,373.3 322.1,373.3 322.1,365.8 320.8,365.8 318.8,365.8 318.8,373.3 316.7,373.3 315.4,373.3 315.4,370.8 312.9,370.8 312.9,368.3 311.7,368.3 310.0,368.3 310.0,364.2 308.3,364.2 307.5,364.2 307.5,375.0 306.7,375.0 295.8,375.8 294.6,375.8 294.6,370.0 293.3,370.0 291.2,370.0 291.2,367.5 289.2,367.5 287.5,367.5 287.5,360.0 285.8,360.0 285.0,345.8 280.8,345.8 279.9,345.8 279.9,358.3 279.0,358.3 277.5,358.3 276.7,355.0 275.0,355.0 275.0,354.0 271.7,354.0 271.7,353.0 270.0,353.0 266.4,351.7 266.4,310.8 264.8,310.8 264.8,350.0 261.0,350.0 260.5,344.2 257.5,344.2" fill="#ffb4d6"/>
<clipPath id="fillclip"><polygon points="257.5,455.0 257.5,360.8 260.5,360.8 261.0,366.7 264.8,366.7 264.8,327.5 266.4,327.5 266.4,369.2 270.0,370.0 271.7,370.0 271.7,371.6 275.0,371.6 275.0,373.3 276.7,373.3 277.5,376.7 279.0,376.7 280.4,376.7 280.4,364.2 281.7,364.2 285.0,364.2 285.8,373.3 287.5,373.3 287.5,386.7 289.2,386.7 291.2,386.7 291.2,384.2 293.3,384.2 294.6,384.2 294.6,390.0 295.8,390.0 306.7,390.8 307.5,390.8 307.5,380.8 308.3,380.8 310.0,380.8 310.0,385.0 311.7,385.0 312.9,385.0 312.9,385.9 315.4,385.9 315.4,386.7 316.7,386.7 318.8,386.7 318.8,380.8 320.8,380.8 322.1,380.8 322.1,388.3 323.3,388.3 325.0,388.3 325.0,395.0 326.7,395.0 327.5,395.0 327.5,381.7 328.3,381.7 330.4,381.7 330.4,373.3 332.5,373.3 333.8,373.3 333.8,381.7 335.0,381.7 340.8,380.8 342.1,380.8 342.1,385.0 343.3,385.0 350.0,384.2 351.6,384.2 351.6,388.3 353.3,388.3 354.6,388.3 354.6,389.6 357.1,389.6 357.1,390.8 358.3,390.8 365.0,390.0 366.2,390.0 366.2,380.0 367.5,380.0 369.6,380.0 369.6,381.7 371.7,381.7 372.9,381.7 372.9,382.9 375.4,382.9 375.4,384.2 376.7,384.2 378.4,384.2 378.4,385.4 381.6,385.4 381.6,386.7 383.3,386.7 385.0,386.7 385.0,390.0 386.7,390.0 388.4,390.0 388.4,387.9 391.6,387.9 391.6,385.8 393.3,385.8 395.0,385.8 395.0,387.1 398.3,387.1 398.3,388.3 400.0,388.3 402.1,388.3 402.1,395.0 404.2,395.0 406.2,395.0 406.2,383.3 408.3,383.3 409.8,383.3 409.8,382.5 412.7,382.5 412.7,381.7 414.2,381.7 415.0,381.7 415.0,357.5 415.8,357.5 419.2,358.3 420.0,358.3 420.0,366.7 420.8,366.7 422.9,366.7 422.9,371.7 425.0,371.7 427.1,371.7 427.1,362.5 429.2,362.5 431.2,362.5 431.2,357.5 433.3,357.5 435.0,357.5 435.0,358.8 438.3,358.8 438.3,360.0 440.0,360.0 441.2,360.0 441.2,368.3 442.5,368.3 447.5,369.2 449.2,369.2 449.2,373.8 452.5,373.8 452.5,378.3 454.2,378.3 456.2,378.3 456.2,363.3 458.3,363.3 460.4,363.3 460.4,365.0 462.5,365.0 463.8,365.0 463.8,376.7 465.0,376.7 466.2,376.7 466.2,377.9 468.8,377.9 468.8,379.2 470.0,379.2 471.6,379.2 471.6,390.8 473.3,390.8 474.6,390.8 474.6,393.3 475.8,393.3 477.5,393.3 477.5,385.0 479.2,385.0 483.3,385.0 485.0,385.0 485.0,376.7 486.7,376.7 493.3,376.7 493.3,363.3 495.0,363.3 495.9,363.3 495.9,385.0 496.7,385.0 497.9,385.0 497.9,382.5 500.4,382.5 500.4,380.0 501.7,380.0 503.4,380.0 503.4,385.0 505.0,385.0 506.2,385.0 506.2,387.1 508.8,387.1 508.8,389.2 510.0,389.2 511.7,389.2 511.7,387.1 515.0,387.1 515.0,385.0 516.7,385.0 518.2,385.0 518.2,385.9 521.0,385.9 521.0,386.7 522.5,386.7 523.8,386.7 523.8,388.3 525.0,388.3 526.6,388.3 526.6,378.3 528.3,378.3 529.5,378.3 529.5,378.7 532.0,378.7 532.0,379.1 534.5,379.1 534.5,379.6 537.0,379.6 537.0,380.0 538.3,380.0 539.1,380.0 539.1,388.3 540.0,388.3 551.7,388.3 552.5,388.3 552.5,383.3 553.3,383.3 554.8,383.3 554.8,381.6 557.7,381.6 557.7,380.0 559.2,380.0 560.5,380.0 560.5,391.7 561.7,391.7 565.0,390.8 567.1,390.8 567.1,380.0 569.2,380.0 570.9,380.0 570.9,351.7 572.5,351.7 574.6,351.7 574.6,354.2 576.7,354.2 578.0,354.2 578.0,366.7 579.2,366.7 580.5,366.7 580.5,368.3 581.7,368.3 583.4,368.3 583.4,377.5 585.0,377.5 589.2,377.5 590.0,358.3 591.2,358.3 591.2,344.2 592.5,344.2 593.8,344.2 593.8,348.3 595.0,348.3 596.2,348.3 596.2,371.7 597.5,371.7 598.8,371.7 598.8,365.0 600.0,365.0 601.6,365.0 601.6,363.3 603.3,363.3 604.5,363.3 604.5,366.7 605.8,366.7 607.3,366.7 607.3,370.0 610.2,370.0 610.2,373.3 611.7,373.3 613.0,373.3 613.0,374.1 615.5,374.1 615.5,375.0 616.7,375.0 617.5,375.0 617.5,366.7 618.3,366.7 620.0,366.7 620.0,375.0 621.7,375.0 623.0,375.0 623.0,375.9 625.5,375.9 625.5,376.7 626.7,376.7 628.4,376.7 628.4,363.3 630.0,363.3 631.2,363.3 631.2,371.7 632.5,371.7 633.8,371.7 633.8,372.5 636.2,372.5 636.2,373.3 637.5,373.3 639.6,373.3 639.6,371.7 641.7,371.7 642.5,371.7 642.5,376.7 643.3,376.7 644.5,376.7 644.5,375.9 647.0,375.9 647.0,375.0 648.3,375.0 650.0,375.0 650.0,351.7 651.7,351.7 656.7,351.7 658.8,351.7 658.8,360.8 660.8,360.8 662.9,360.8 662.9,366.7 665.0,366.7 666.2,366.7 666.2,370.0 668.8,370.0 668.8,373.3 670.0,373.3 672.1,373.3 672.1,384.2 674.2,384.2 675.5,384.2 675.5,380.4 678.0,380.4 678.0,376.7 679.2,376.7 681.2,376.7 681.2,375.0 683.3,375.0 691.7,374.2 693.0,374.2 693.0,390.0 694.2,390.0 696.7,390.8 698.0,390.8 698.0,394.1 700.5,394.1 700.5,397.5 701.7,397.5 703.0,397.5 703.0,395.0 705.5,395.0 705.5,392.5 706.7,392.5 708.0,392.5 708.0,390.4 710.5,390.4 710.5,388.3 711.7,388.3 713.8,388.3 713.8,381.7 715.8,381.7 717.0,381.7 717.0,385.0 718.3,385.0 719.1,385.0 719.1,393.3 720.0,393.3 721.7,393.3 721.7,395.8 725.0,395.8 725.0,398.3 726.7,398.3 728.4,398.3 728.4,400.8 730.0,400.8 731.2,400.8 731.2,396.7 732.5,396.7 733.8,396.7 733.8,395.3 736.2,395.3 736.2,393.9 738.8,393.9 738.8,392.5 740.0,392.5 741.5,392.5 741.5,391.6 744.3,391.6 744.3,390.8 745.8,390.8 751.7,390.0 753.0,390.0 753.0,403.3 754.2,403.3 759.2,403.3 760.0,403.3 760.0,388.3 760.8,388.3 762.0,388.3 762.0,400.0 763.3,400.0 765.0,400.0 765.0,410.0 766.7,410.0 768.0,410.0 768.0,407.5 770.5,407.5 770.5,405.0 771.7,405.0 773.0,405.0 773.0,407.9 775.5,407.9 775.5,410.8 776.7,410.8 778.0,410.8 778.0,407.9 780.5,407.9 780.5,405.0 781.7,405.0 783.0,405.0 783.0,406.6 785.5,406.6 785.5,408.3 786.7,408.3 788.2,408.3 788.2,405.8 791.0,405.8 791.0,403.3 792.5,403.3 793.4,403.3 793.4,375.0 794.2,375.0 796.2,375.0 796.2,377.5 798.3,377.5 799.5,377.5 799.5,399.2 800.8,399.2 804.2,398.3 805.5,398.3 805.5,403.3 806.7,403.3 811.7,404.2 813.8,404.2 813.8,391.7 815.8,391.7 820.8,392.5 822.9,392.5 822.9,405.0 825.0,405.0 826.2,405.0 826.2,407.9 828.8,407.9 828.8,410.8 830.0,410.8 831.6,410.8 831.6,400.0 833.3,400.0 835.0,400.0 835.0,398.3 836.7,398.3 838.4,398.3 838.4,395.8 841.6,395.8 841.6,393.3 843.3,393.3 845.4,393.3 845.4,401.7 847.5,401.7 849.0,401.7 849.0,399.2 851.8,399.2 851.8,396.7 853.3,396.7 854.5,396.7 854.5,386.7 855.8,386.7 857.0,386.7 857.0,401.7 858.3,401.7 860.0,401.7 860.0,399.6 863.3,399.6 863.3,397.5 865.0,397.5 866.2,397.5 866.2,398.8 868.8,398.8 868.8,400.0 870.0,400.0 871.2,400.0 871.2,397.1 873.8,397.1 873.8,394.2 875.0,394.2 876.6,394.2 876.6,401.7 878.3,401.7 880.0,401.7 880.0,402.5 883.3,402.5 883.3,403.3 885.0,403.3 886.2,403.3 886.2,405.0 888.8,405.0 888.8,406.7 890.0,406.7 892.1,406.7 892.1,410.8 894.2,410.8 895.7,410.8 895.7,410.0 898.5,410.0 898.5,409.2 900.0,409.2 906.7,408.3 908.4,408.3 908.4,409.1 911.6,409.1 911.6,410.0 913.3,410.0 918.3,410.8 920.0,410.8 920.0,405.0 921.7,405.0 923.2,405.0 923.2,403.8 926.0,403.8 926.0,402.5 929.0,402.5 929.0,401.2 931.8,401.2 931.8,400.0 933.3,400.0 935.0,400.0 935.0,375.0 936.7,375.0 938.8,375.0 938.8,381.7 940.8,381.7 942.9,381.7 942.9,401.7 945.0,401.7 946.6,401.7 946.6,408.3 948.3,408.3 949.5,408.3 949.5,405.0 952.0,405.0 952.0,401.7 953.3,401.7 955.0,401.7 955.0,393.3 956.7,393.3 958.4,393.3 958.4,408.3 960.0,408.3 961.6,408.3 961.6,401.7 963.3,401.7 965.0,401.7 965.0,403.8 968.3,403.8 968.3,405.8 970.0,405.8 971.2,405.8 971.2,402.9 973.8,402.9 973.8,400.0 975.0,400.0 981.7,400.0 982.5,400.0 982.5,408.3 983.3,408.3 985.0,408.3 985.0,400.8 988.3,400.8 988.3,393.3 990.0,393.3 991.5,393.3 991.5,394.1 994.3,394.1 994.3,395.0 995.8,395.0 996.6,395.0 996.6,371.7 997.5,371.7 1003.3,371.7 1005.0,371.7 1005.0,380.0 1006.7,380.0 1008.4,380.0 1008.4,380.9 1011.6,380.9 1011.6,381.7 1013.3,381.7 1015.0,381.7 1015.0,390.0 1016.7,390.0 1023.3,390.0 1024.5,390.0 1024.5,385.9 1027.0,385.9 1027.0,381.7 1028.3,381.7 1030.0,381.7 1030.0,371.7 1031.7,371.7 1033.8,371.7 1033.8,373.3 1035.8,373.3 1037.0,373.3 1037.0,385.0 1038.3,385.0 1042.5,385.0 1043.3,385.0 1043.3,323.3 1044.2,323.3 1045.5,323.3 1045.5,325.0 1046.7,325.0 1047.5,325.0 1047.5,350.0 1048.3,350.0 1049.5,350.0 1049.5,355.9 1052.0,355.9 1052.0,361.7 1053.3,361.7 1054.5,361.7 1054.5,371.7 1055.8,371.7 1057.3,371.7 1057.3,370.0 1060.2,370.0 1060.2,368.3 1061.7,368.3 1063.8,368.3 1063.8,373.3 1065.8,373.3 1065.8,455.0"/><polygon points="257.5,344.2 260.5,344.2 261.0,350.0 264.8,350.0 264.8,310.8 266.4,310.8 266.4,351.7 270.0,353.0 271.7,353.0 271.7,354.0 275.0,354.0 275.0,355.0 276.7,355.0 277.5,358.3 279.0,358.3 279.9,358.3 279.9,345.8 280.8,345.8 285.0,345.8 285.8,360.0 287.5,360.0 287.5,367.5 289.2,367.5 291.2,367.5 291.2,370.0 293.3,370.0 294.6,370.0 294.6,375.8 295.8,375.8 306.7,375.0 307.5,375.0 307.5,364.2 308.3,364.2 310.0,364.2 310.0,368.3 311.7,368.3 312.9,368.3 312.9,370.8 315.4,370.8 315.4,373.3 316.7,373.3 318.8,373.3 318.8,365.8 320.8,365.8 322.1,365.8 322.1,373.3 323.3,373.3 325.0,373.3 325.0,380.0 326.7,380.0 327.5,380.0 327.5,368.3 328.3,368.3 330.4,368.3 330.4,357.5 332.5,357.5 333.8,357.5 333.8,365.0 335.0,365.0 340.8,365.8 342.1,365.8 342.1,370.0 343.3,370.0 345.0,370.0 345.0,368.8 348.3,368.8 348.3,367.5 350.0,367.5 351.6,367.5 351.6,371.7 353.3,371.7 354.6,371.7 354.6,373.4 357.1,373.4 357.1,375.0 358.3,375.0 360.0,375.0 360.0,376.6 363.3,376.6 363.3,378.3 365.0,378.3 366.2,378.3 366.2,364.2 367.5,364.2 371.7,363.3 372.9,363.3 372.9,365.0 375.4,365.0 375.4,366.7 376.7,366.7 378.4,366.7 378.4,368.4 381.6,368.4 381.6,370.0 383.3,370.0 385.0,370.0 385.0,375.8 386.7,375.8 388.4,375.8 388.4,373.8 391.6,373.8 391.6,371.7 393.3,371.7 395.0,371.7 395.0,372.5 398.3,372.5 398.3,373.3 400.0,373.3 402.1,373.3 402.1,382.5 404.2,382.5 406.2,382.5 406.2,367.5 408.3,367.5 414.2,366.7 415.0,366.7 415.0,341.7 415.8,341.7 419.2,341.7 420.0,341.7 420.0,352.5 420.8,352.5 425.0,353.3 427.1,353.3 427.1,341.7 429.2,341.7 431.2,341.7 431.2,336.7 433.3,336.7 435.0,336.7 435.0,338.4 438.3,338.4 438.3,340.0 440.0,340.0 441.2,340.0 441.2,351.7 442.5,351.7 443.8,351.7 443.8,352.5 446.2,352.5 446.2,353.3 447.5,353.3 449.2,353.3 449.2,357.5 452.5,357.5 452.5,361.7 454.2,361.7 456.2,361.7 456.2,344.2 458.3,344.2 460.4,344.2 460.4,346.7 462.5,346.7 463.8,346.7 463.8,358.3 465.0,358.3 466.2,358.3 466.2,360.4 468.8,360.4 468.8,362.5 470.0,362.5 471.6,362.5 471.6,378.3 473.3,378.3 474.6,378.3 474.6,380.0 475.8,380.0 477.5,380.0 477.5,370.0 479.2,370.0 483.3,370.0 485.0,370.0 485.0,360.8 486.7,360.8 493.3,360.8 493.3,339.2 495.0,339.2 495.9,339.2 495.9,363.3 496.7,363.3 501.7,362.5 503.4,362.5 503.4,370.0 505.0,370.0 506.2,370.0 506.2,371.6 508.8,371.6 508.8,373.3 510.0,373.3 511.7,373.3 511.7,371.6 515.0,371.6 515.0,370.0 516.7,370.0 522.5,369.2 523.8,369.2 523.8,373.3 525.0,373.3 526.6,373.3 526.6,363.3 528.3,363.3 538.3,363.3 539.1,363.3 539.1,373.3 540.0,373.3 551.7,373.3 552.5,373.3 552.5,365.0 553.3,365.0 559.2,365.0 560.0,373.3 565.0,374.2 567.1,374.2 567.1,367.5 569.2,367.5 570.9,367.5 570.9,330.8 572.5,330.8 574.6,330.8 574.6,332.5 576.7,332.5 578.0,332.5 578.0,340.0 579.2,340.0 580.5,340.0 580.5,353.3 581.7,353.3 583.4,353.3 583.4,364.2 585.0,364.2 589.2,364.2 590.0,345.0 591.2,345.0 591.2,327.5 592.5,327.5 595.0,327.5 595.9,327.5 595.9,350.0 596.7,350.0 598.4,350.0 598.4,345.8 600.0,345.8 603.3,345.0 604.5,345.0 604.5,351.7 605.8,351.7 607.3,351.7 607.3,355.0 610.2,355.0 610.2,358.3 611.7,358.3 616.7,359.2 617.5,359.2 617.5,350.8 618.3,350.8 620.0,350.8 620.0,356.7 621.7,356.7 626.7,357.5 628.4,357.5 628.4,340.8 630.0,340.8 631.2,340.8 631.2,350.0 632.5,350.0 637.5,350.8 641.7,350.8 642.5,350.8 642.5,359.2 643.3,359.2 648.3,360.0 650.0,360.0 650.0,335.8 651.7,335.8 653.0,335.8 653.0,336.6 655.5,336.6 655.5,337.5 656.7,337.5 658.8,337.5 658.8,343.3 660.8,343.3 662.9,343.3 662.9,348.3 665.0,348.3 666.2,348.3 666.2,352.1 668.8,352.1 668.8,355.8 670.0,355.8 672.1,355.8 672.1,360.8 674.2,360.8 675.5,360.8 675.5,359.6 678.0,359.6 678.0,358.3 679.2,358.3 681.2,358.3 681.2,362.5 683.3,362.5 684.7,362.5 684.7,361.4 687.5,361.4 687.5,360.3 690.3,360.3 690.3,359.2 691.7,359.2 693.0,359.2 693.0,373.3 694.2,373.3 695.5,373.3 695.5,378.3 696.7,378.3 703.3,377.5 704.7,377.5 704.7,376.1 707.5,376.1 707.5,374.7 710.3,374.7 710.3,373.3 711.7,373.3 713.8,373.3 713.8,367.5 715.8,367.5 717.0,367.5 717.0,371.7 718.3,371.7 719.1,371.7 719.1,381.7 720.0,381.7 721.7,381.7 721.7,384.2 725.0,384.2 725.0,386.7 726.7,386.7 728.4,386.7 728.4,388.3 730.0,388.3 731.2,388.3 731.2,381.7 732.5,381.7 733.8,381.7 733.8,380.6 736.2,380.6 736.2,379.4 738.8,379.4 738.8,378.3 740.0,378.3 741.5,378.3 741.5,377.5 744.3,377.5 744.3,376.7 745.8,376.7 750.8,377.5 752.5,377.5 752.5,380.8 754.2,380.8 755.0,400.0 760.0,400.0 760.8,378.3 762.0,378.3 762.0,390.0 763.3,390.0 765.0,390.0 765.0,400.0 766.7,400.0 768.0,400.0 768.0,398.4 770.5,398.4 770.5,396.7 771.7,396.7 773.4,396.7 773.4,401.7 775.0,401.7 776.6,401.7 776.6,392.5 778.3,392.5 780.0,392.5 780.0,400.0 781.7,400.0 783.4,400.0 783.4,395.8 785.0,395.8 791.7,395.0 793.0,395.0 793.0,364.2 794.2,364.2 795.9,364.2 795.9,367.5 797.5,367.5 798.8,367.5 798.8,378.3 800.0,378.3 802.1,378.3 802.1,385.0 804.2,385.0 805.5,385.0 805.5,386.7 806.7,386.7 808.4,386.7 808.4,396.7 810.0,396.7 811.5,396.7 811.5,389.2 814.3,389.2 814.3,381.7 815.8,381.7 820.8,381.7 822.9,381.7 822.9,386.7 825.0,386.7 826.6,386.7 826.6,400.0 828.3,400.0 829.5,400.0 829.5,396.6 832.0,396.6 832.0,393.3 833.3,393.3 835.0,393.3 835.0,386.7 836.7,386.7 838.4,386.7 838.4,384.6 841.6,384.6 841.6,382.5 843.3,382.5 844.5,382.5 844.5,384.1 847.0,384.1 847.0,385.8 848.3,385.8 853.3,385.0 854.5,385.0 854.5,375.0 855.8,375.0 857.0,375.0 857.0,386.7 858.3,386.7 860.0,386.7 860.0,385.9 863.3,385.9 863.3,385.0 865.0,385.0 866.2,385.0 866.2,386.6 868.8,386.6 868.8,388.3 870.0,388.3 871.2,388.3 871.2,385.4 873.8,385.4 873.8,382.5 875.0,382.5 876.6,382.5 876.6,387.5 878.3,387.5 880.0,387.5 880.0,388.4 883.3,388.4 883.3,389.2 885.0,389.2 886.2,389.2 886.2,392.9 888.8,392.9 888.8,396.7 890.0,396.7 891.2,396.7 891.2,398.4 893.8,398.4 893.8,400.0 895.0,400.0 900.0,400.0 901.7,400.0 901.7,398.4 905.0,398.4 905.0,396.7 906.7,396.7 908.4,396.7 908.4,397.9 911.6,397.9 911.6,399.2 913.3,399.2 914.5,399.2 914.5,400.4 917.0,400.4 917.0,401.7 918.3,401.7 919.5,401.7 919.5,394.2 922.0,394.2 922.0,386.7 923.3,386.7 930.0,387.5 931.6,387.5 931.6,393.3 933.3,393.3 934.5,393.3 934.5,363.3 935.8,363.3 939.2,363.3 940.0,381.7 941.6,381.7 941.6,388.3 943.3,388.3 945.0,388.3 945.0,395.0 946.7,395.0 953.3,395.0 955.0,395.0 955.0,381.7 956.7,381.7 959.0,381.7 960.4,381.7 960.4,390.8 961.7,390.8 966.7,391.7 968.4,391.7 968.4,388.8 971.6,388.8 971.6,385.8 973.3,385.8 980.0,385.8 981.6,385.8 981.6,391.7 983.3,391.7 984.5,391.7 984.5,386.7 987.0,386.7 987.0,381.7 988.3,381.7 989.5,381.7 989.5,383.8 992.0,383.8 992.0,385.8 993.3,385.8 995.0,385.8 995.0,354.2 996.7,354.2 1003.3,355.0 1005.0,355.0 1005.0,361.7 1006.7,361.7 1008.4,361.7 1008.4,364.2 1011.6,364.2 1011.6,366.7 1013.3,366.7 1015.0,366.7 1015.0,368.4 1018.3,368.4 1018.3,370.0 1020.0,370.0 1021.7,370.0 1021.7,370.9 1025.0,370.9 1025.0,371.7 1026.7,371.7 1028.0,371.7 1028.0,365.0 1030.5,365.0 1030.5,358.3 1031.7,358.3 1035.8,358.3 1037.0,358.3 1037.0,368.3 1038.3,368.3 1040.4,368.3 1040.4,373.3 1042.5,373.3 1043.3,373.3 1043.3,308.3 1044.2,308.3 1045.8,308.3 1045.8,306.7 1047.5,306.7 1048.3,306.7 1048.3,331.7 1049.2,331.7 1051.2,331.7 1051.2,345.0 1053.3,345.0 1054.5,345.0 1054.5,348.4 1057.0,348.4 1057.0,351.7 1058.3,351.7 1062.5,351.7 1064.2,351.7 1064.2,356.7 1065.8,356.7 1065.8,373.3 1063.8,373.3 1063.8,368.3 1061.7,368.3 1060.2,368.3 1060.2,370.0 1057.3,370.0 1057.3,371.7 1055.8,371.7 1054.5,371.7 1054.5,361.7 1053.3,361.7 1052.0,361.7 1052.0,355.9 1049.5,355.9 1049.5,350.0 1048.3,350.0 1047.5,350.0 1047.5,325.0 1046.7,325.0 1045.5,325.0 1045.5,323.3 1044.2,323.3 1043.3,323.3 1043.3,385.0 1042.5,385.0 1038.3,385.0 1037.0,385.0 1037.0,373.3 1035.8,373.3 1033.8,373.3 1033.8,371.7 1031.7,371.7 1030.0,371.7 1030.0,381.7 1028.3,381.7 1027.0,381.7 1027.0,385.9 1024.5,385.9 1024.5,390.0 1023.3,390.0 1016.7,390.0 1015.0,390.0 1015.0,381.7 1013.3,381.7 1011.6,381.7 1011.6,380.9 1008.4,380.9 1008.4,380.0 1006.7,380.0 1005.0,380.0 1005.0,371.7 1003.3,371.7 997.5,371.7 996.6,371.7 996.6,395.0 995.8,395.0 994.3,395.0 994.3,394.1 991.5,394.1 991.5,393.3 990.0,393.3 988.3,393.3 988.3,400.8 985.0,400.8 985.0,408.3 983.3,408.3 982.5,408.3 982.5,400.0 981.7,400.0 975.0,400.0 973.8,400.0 973.8,402.9 971.2,402.9 971.2,405.8 970.0,405.8 968.3,405.8 968.3,403.8 965.0,403.8 965.0,401.7 963.3,401.7 961.6,401.7 961.6,408.3 960.0,408.3 958.4,408.3 958.4,393.3 956.7,393.3 955.0,393.3 955.0,401.7 953.3,401.7 952.0,401.7 952.0,405.0 949.5,405.0 949.5,408.3 948.3,408.3 946.6,408.3 946.6,401.7 945.0,401.7 942.9,401.7 942.9,381.7 940.8,381.7 938.8,381.7 938.8,375.0 936.7,375.0 935.0,375.0 935.0,400.0 933.3,400.0 931.8,400.0 931.8,401.2 929.0,401.2 929.0,402.5 926.0,402.5 926.0,403.8 923.2,403.8 923.2,405.0 921.7,405.0 920.0,405.0 920.0,410.8 918.3,410.8 913.3,410.0 911.6,410.0 911.6,409.1 908.4,409.1 908.4,408.3 906.7,408.3 900.0,409.2 898.5,409.2 898.5,410.0 895.7,410.0 895.7,410.8 894.2,410.8 892.1,410.8 892.1,406.7 890.0,406.7 888.8,406.7 888.8,405.0 886.2,405.0 886.2,403.3 885.0,403.3 883.3,403.3 883.3,402.5 880.0,402.5 880.0,401.7 878.3,401.7 876.6,401.7 876.6,394.2 875.0,394.2 873.8,394.2 873.8,397.1 871.2,397.1 871.2,400.0 870.0,400.0 868.8,400.0 868.8,398.8 866.2,398.8 866.2,397.5 865.0,397.5 863.3,397.5 863.3,399.6 860.0,399.6 860.0,401.7 858.3,401.7 857.0,401.7 857.0,386.7 855.8,386.7 854.5,386.7 854.5,396.7 853.3,396.7 851.8,396.7 851.8,399.2 849.0,399.2 849.0,401.7 847.5,401.7 845.4,401.7 845.4,393.3 843.3,393.3 841.6,393.3 841.6,395.8 838.4,395.8 838.4,398.3 836.7,398.3 835.0,398.3 835.0,400.0 833.3,400.0 831.6,400.0 831.6,410.8 830.0,410.8 828.8,410.8 828.8,407.9 826.2,407.9 826.2,405.0 825.0,405.0 822.9,405.0 822.9,392.5 820.8,392.5 815.8,391.7 813.8,391.7 813.8,404.2 811.7,404.2 806.7,403.3 805.5,403.3 805.5,398.3 804.2,398.3 800.8,399.2 799.5,399.2 799.5,377.5 798.3,377.5 796.2,377.5 796.2,375.0 794.2,375.0 793.4,375.0 793.4,403.3 792.5,403.3 791.0,403.3 791.0,405.8 788.2,405.8 788.2,408.3 786.7,408.3 785.5,408.3 785.5,406.6 783.0,406.6 783.0,405.0 781.7,405.0 780.5,405.0 780.5,407.9 778.0,407.9 778.0,410.8 776.7,410.8 775.5,410.8 775.5,407.9 773.0,407.9 773.0,405.0 771.7,405.0 770.5,405.0 770.5,407.5 768.0,407.5 768.0,410.0 766.7,410.0 765.0,410.0 765.0,400.0 763.3,400.0 762.0,400.0 762.0,388.3 760.8,388.3 760.0,388.3 760.0,403.3 759.2,403.3 754.2,403.3 753.0,403.3 753.0,390.0 751.7,390.0 745.8,390.8 744.3,390.8 744.3,391.6 741.5,391.6 741.5,392.5 740.0,392.5 738.8,392.5 738.8,393.9 736.2,393.9 736.2,395.3 733.8,395.3 733.8,396.7 732.5,396.7 731.2,396.7 731.2,400.8 730.0,400.8 728.4,400.8 728.4,398.3 726.7,398.3 725.0,398.3 725.0,395.8 721.7,395.8 721.7,393.3 720.0,393.3 719.1,393.3 719.1,385.0 718.3,385.0 717.0,385.0 717.0,381.7 715.8,381.7 713.8,381.7 713.8,388.3 711.7,388.3 710.5,388.3 710.5,390.4 708.0,390.4 708.0,392.5 706.7,392.5 705.5,392.5 705.5,395.0 703.0,395.0 703.0,397.5 701.7,397.5 700.5,397.5 700.5,394.1 698.0,394.1 698.0,390.8 696.7,390.8 694.2,390.0 693.0,390.0 693.0,374.2 691.7,374.2 683.3,375.0 681.2,375.0 681.2,376.7 679.2,376.7 678.0,376.7 678.0,380.4 675.5,380.4 675.5,384.2 674.2,384.2 672.1,384.2 672.1,373.3 670.0,373.3 668.8,373.3 668.8,370.0 666.2,370.0 666.2,366.7 665.0,366.7 662.9,366.7 662.9,360.8 660.8,360.8 658.8,360.8 658.8,351.7 656.7,351.7 651.7,351.7 650.0,351.7 650.0,375.0 648.3,375.0 647.0,375.0 647.0,375.9 644.5,375.9 644.5,376.7 643.3,376.7 642.5,376.7 642.5,371.7 641.7,371.7 639.6,371.7 639.6,373.3 637.5,373.3 636.2,373.3 636.2,372.5 633.8,372.5 633.8,371.7 632.5,371.7 631.2,371.7 631.2,363.3 630.0,363.3 628.4,363.3 628.4,376.7 626.7,376.7 625.5,376.7 625.5,375.9 623.0,375.9 623.0,375.0 621.7,375.0 620.0,375.0 620.0,366.7 618.3,366.7 617.5,366.7 617.5,375.0 616.7,375.0 615.5,375.0 615.5,374.1 613.0,374.1 613.0,373.3 611.7,373.3 610.2,373.3 610.2,370.0 607.3,370.0 607.3,366.7 605.8,366.7 604.5,366.7 604.5,363.3 603.3,363.3 601.6,363.3 601.6,365.0 600.0,365.0 598.8,365.0 598.8,371.7 597.5,371.7 596.2,371.7 596.2,348.3 595.0,348.3 593.8,348.3 593.8,344.2 592.5,344.2 591.2,344.2 591.2,358.3 590.0,358.3 589.2,377.5 585.0,377.5 583.4,377.5 583.4,368.3 581.7,368.3 580.5,368.3 580.5,366.7 579.2,366.7 578.0,366.7 578.0,354.2 576.7,354.2 574.6,354.2 574.6,351.7 572.5,351.7 570.9,351.7 570.9,380.0 569.2,380.0 567.1,380.0 567.1,390.8 565.0,390.8 561.7,391.7 560.5,391.7 560.5,380.0 559.2,380.0 557.7,380.0 557.7,381.6 554.8,381.6 554.8,383.3 553.3,383.3 552.5,383.3 552.5,388.3 551.7,388.3 540.0,388.3 539.1,388.3 539.1,380.0 538.3,380.0 537.0,380.0 537.0,379.6 534.5,379.6 534.5,379.1 532.0,379.1 532.0,378.7 529.5,378.7 529.5,378.3 528.3,378.3 526.6,378.3 526.6,388.3 525.0,388.3 523.8,388.3 523.8,386.7 522.5,386.7 521.0,386.7 521.0,385.9 518.2,385.9 518.2,385.0 516.7,385.0 515.0,385.0 515.0,387.1 511.7,387.1 511.7,389.2 510.0,389.2 508.8,389.2 508.8,387.1 506.2,387.1 506.2,385.0 505.0,385.0 503.4,385.0 503.4,380.0 501.7,380.0 500.4,380.0 500.4,382.5 497.9,382.5 497.9,385.0 496.7,385.0 495.9,385.0 495.9,363.3 495.0,363.3 493.3,363.3 493.3,376.7 486.7,376.7 485.0,376.7 485.0,385.0 483.3,385.0 479.2,385.0 477.5,385.0 477.5,393.3 475.8,393.3 474.6,393.3 474.6,390.8 473.3,390.8 471.6,390.8 471.6,379.2 470.0,379.2 468.8,379.2 468.8,377.9 466.2,377.9 466.2,376.7 465.0,376.7 463.8,376.7 463.8,365.0 462.5,365.0 460.4,365.0 460.4,363.3 458.3,363.3 456.2,363.3 456.2,378.3 454.2,378.3 452.5,378.3 452.5,373.8 449.2,373.8 449.2,369.2 447.5,369.2 442.5,368.3 441.2,368.3 441.2,360.0 440.0,360.0 438.3,360.0 438.3,358.8 435.0,358.8 435.0,357.5 433.3,357.5 431.2,357.5 431.2,362.5 429.2,362.5 427.1,362.5 427.1,371.7 425.0,371.7 422.9,371.7 422.9,366.7 420.8,366.7 420.0,366.7 420.0,358.3 419.2,358.3 415.8,357.5 415.0,357.5 415.0,381.7 414.2,381.7 412.7,381.7 412.7,382.5 409.8,382.5 409.8,383.3 408.3,383.3 406.2,383.3 406.2,395.0 404.2,395.0 402.1,395.0 402.1,388.3 400.0,388.3 398.3,388.3 398.3,387.1 395.0,387.1 395.0,385.8 393.3,385.8 391.6,385.8 391.6,387.9 388.4,387.9 388.4,390.0 386.7,390.0 385.0,390.0 385.0,386.7 383.3,386.7 381.6,386.7 381.6,385.4 378.4,385.4 378.4,384.2 376.7,384.2 375.4,384.2 375.4,382.9 372.9,382.9 372.9,381.7 371.7,381.7 369.6,381.7 369.6,380.0 367.5,380.0 366.2,380.0 366.2,390.0 365.0,390.0 358.3,390.8 357.1,390.8 357.1,389.6 354.6,389.6 354.6,388.3 353.3,388.3 351.6,388.3 351.6,384.2 350.0,384.2 343.3,385.0 342.1,385.0 342.1,380.8 340.8,380.8 335.0,381.7 333.8,381.7 333.8,373.3 332.5,373.3 330.4,373.3 330.4,381.7 328.3,381.7 327.5,381.7 327.5,395.0 326.7,395.0 325.0,395.0 325.0,388.3 323.3,388.3 322.1,388.3 322.1,380.8 320.8,380.8 318.8,380.8 318.8,386.7 316.7,386.7 315.4,386.7 315.4,385.9 312.9,385.9 312.9,385.0 311.7,385.0 310.0,385.0 310.0,380.8 308.3,380.8 307.5,380.8 307.5,390.8 306.7,390.8 295.8,390.0 294.6,390.0 294.6,384.2 293.3,384.2 291.2,384.2 291.2,386.7 289.2,386.7 287.5,386.7 287.5,373.3 285.8,373.3 285.0,364.2 281.7,364.2 280.4,364.2 280.4,376.7 279.0,376.7 277.5,376.7 276.7,373.3 275.0,373.3 275.0,371.6 271.7,371.6 271.7,370.0 270.0,370.0 266.4,369.2 266.4,327.5 264.8,327.5 264.8,366.7 261.0,366.7 260.5,360.8 257.5,360.8"/><polygon points="257.5,260.8 260.3,260.8 260.8,277.5 264.8,277.5 264.8,196.7 266.4,196.7 266.4,275.0 267.4,275.0 267.4,277.5 268.3,277.5 270.0,277.5 270.0,278.8 273.3,278.8 273.3,280.0 275.0,280.0 275.5,276.7 277.0,276.7 277.5,286.7 279.0,286.7 279.5,276.0 280.0,263.3 285.0,263.3 285.8,285.8 287.1,285.8 287.1,300.0 288.3,300.0 289.1,300.0 289.1,311.7 290.0,311.7 291.6,311.7 291.6,305.0 293.3,305.0 294.6,305.0 294.6,318.3 295.8,318.3 300.0,317.0 301.7,317.0 301.7,316.0 305.0,316.0 305.0,315.0 306.7,315.0 307.5,319.0 308.3,295.0 310.0,295.0 310.9,295.0 310.9,305.0 311.7,305.0 312.9,305.0 312.9,310.0 315.4,310.0 315.4,315.0 316.7,315.0 318.4,315.0 318.4,298.3 320.0,298.3 321.5,298.3 322.5,315.0 325.0,315.0 325.9,315.0 325.9,326.7 326.7,326.7 327.5,326.7 328.3,300.0 329.1,300.0 329.1,298.0 330.0,298.0 331.2,298.0 331.2,283.3 332.5,283.3 334.0,283.3 335.0,296.7 335.9,296.7 335.9,305.0 336.7,305.0 339.0,305.0 339.9,305.0 339.9,298.3 340.8,298.3 342.0,298.3 342.5,310.0 343.8,310.0 343.8,310.6 346.2,310.6 346.2,311.1 348.8,311.1 348.8,311.7 350.0,311.7 350.5,305.0 351.9,305.0 351.9,310.0 353.3,310.0 354.6,310.0 354.6,314.1 357.1,314.1 357.1,318.3 358.3,318.3 360.0,318.3 360.0,319.1 363.3,319.1 363.3,320.0 365.0,320.0 366.2,320.0 366.2,300.0 367.5,300.0 369.6,300.0 369.6,295.0 371.7,295.0 373.4,295.0 373.4,303.0 375.0,303.0 376.6,303.0 376.6,300.0 378.3,300.0 379.6,300.0 379.6,304.1 382.1,304.1 382.1,308.3 383.3,308.3 385.0,308.3 385.0,318.3 386.7,318.3 388.4,318.3 388.4,315.0 390.0,315.0 391.6,315.0 391.6,308.3 393.3,308.3 395.0,308.3 395.0,315.0 396.7,315.0 397.9,315.0 397.9,313.4 400.4,313.4 400.4,311.7 401.7,311.7 402.9,311.7 402.9,328.3 404.2,328.3 406.0,328.3 406.8,328.3 406.8,321.7 407.5,321.7 408.4,321.7 408.4,301.7 409.2,301.7 410.4,301.7 410.4,300.9 412.9,300.9 412.9,300.0 414.2,300.0 415.0,300.0 415.0,253.3 415.8,253.3 418.3,252.5 419.1,252.5 419.1,270.0 420.0,270.0 421.6,270.0 421.6,273.3 423.3,273.3 425.0,273.3 425.0,275.0 426.7,275.0 427.9,275.0 427.9,256.7 429.2,256.7 431.2,256.7 431.2,245.0 433.3,245.0 434.1,245.0 434.1,248.0 435.0,248.0 435.8,265.0 437.0,265.0 438.0,250.0 439.4,250.0 439.4,248.3 440.8,248.3 441.7,270.0 443.1,270.0 443.1,270.9 446.1,270.9 446.1,271.7 447.5,271.7 449.2,271.7 449.2,280.0 452.5,280.0 452.5,288.3 454.2,288.3 455.4,288.3 455.4,260.0 456.7,260.0 461.7,259.2 462.9,259.2 462.9,287.5 464.2,287.5 465.4,287.5 465.4,288.8 467.9,288.8 467.9,290.0 469.2,290.0 470.4,290.0 470.4,308.3 471.7,308.3 472.8,378.5 473.3,378.3 471.6,378.3 471.6,362.5 470.0,362.5 468.8,362.5 468.8,360.4 466.2,360.4 466.2,358.3 465.0,358.3 463.8,358.3 463.8,346.7 462.5,346.7 460.4,346.7 460.4,344.2 458.3,344.2 456.2,344.2 456.2,361.7 454.2,361.7 452.5,361.7 452.5,357.5 449.2,357.5 449.2,353.3 447.5,353.3 446.2,353.3 446.2,352.5 443.8,352.5 443.8,351.7 442.5,351.7 441.2,351.7 441.2,340.0 440.0,340.0 438.3,340.0 438.3,338.4 435.0,338.4 435.0,336.7 433.3,336.7 431.2,336.7 431.2,341.7 429.2,341.7 427.1,341.7 427.1,353.3 425.0,353.3 420.8,352.5 420.0,352.5 420.0,341.7 419.2,341.7 415.8,341.7 415.0,341.7 415.0,366.7 414.2,366.7 408.3,367.5 406.2,367.5 406.2,382.5 404.2,382.5 402.1,382.5 402.1,373.3 400.0,373.3 398.3,373.3 398.3,372.5 395.0,372.5 395.0,371.7 393.3,371.7 391.6,371.7 391.6,373.8 388.4,373.8 388.4,375.8 386.7,375.8 385.0,375.8 385.0,370.0 383.3,370.0 381.6,370.0 381.6,368.4 378.4,368.4 378.4,366.7 376.7,366.7 375.4,366.7 375.4,365.0 372.9,365.0 372.9,363.3 371.7,363.3 367.5,364.2 366.2,364.2 366.2,378.3 365.0,378.3 363.3,378.3 363.3,376.6 360.0,376.6 360.0,375.0 358.3,375.0 357.1,375.0 357.1,373.4 354.6,373.4 354.6,371.7 353.3,371.7 351.6,371.7 351.6,367.5 350.0,367.5 348.3,367.5 348.3,368.8 345.0,368.8 345.0,370.0 343.3,370.0 342.1,370.0 342.1,365.8 340.8,365.8 335.0,365.0 333.8,365.0 333.8,357.5 332.5,357.5 330.4,357.5 330.4,368.3 328.3,368.3 327.5,368.3 327.5,380.0 326.7,380.0 325.0,380.0 325.0,373.3 323.3,373.3 322.1,373.3 322.1,365.8 320.8,365.8 318.8,365.8 318.8,373.3 316.7,373.3 315.4,373.3 315.4,370.8 312.9,370.8 312.9,368.3 311.7,368.3 310.0,368.3 310.0,364.2 308.3,364.2 307.5,364.2 307.5,375.0 306.7,375.0 295.8,375.8 294.6,375.8 294.6,370.0 293.3,370.0 291.2,370.0 291.2,367.5 289.2,367.5 287.5,367.5 287.5,360.0 285.8,360.0 285.0,345.8 280.8,345.8 279.9,345.8 279.9,358.3 279.0,358.3 277.5,358.3 276.7,355.0 275.0,355.0 275.0,354.0 271.7,354.0 271.7,353.0 270.0,353.0 266.4,351.7 266.4,310.8 264.8,310.8 264.8,350.0 261.0,350.0 260.5,344.2 257.5,344.2"/></clipPath>
<g opacity="0.2" clip-path="url(#fillclip)"><line x1="257" y1="431" x2="1071" y2="431" stroke="#c060a0" stroke-width="1"/>
<line x1="257" y1="407" x2="1071" y2="407" stroke="#c060a0" stroke-width="1"/>
<line x1="257" y1="383" x2="1071" y2="383" stroke="#c060a0" stroke-width="1"/>
<line x1="257" y1="359" x2="1071" y2="359" stroke="#c060a0" stroke-width="1"/>
<line x1="257" y1="335" x2="1071" y2="335" stroke="#c060a0" stroke-width="1"/>
<line x1="257" y1="311" x2="1071" y2="311" stroke="#c060a0" stroke-width="1"/>
<line x1="257" y1="287" x2="1071" y2="287" stroke="#c060a0" stroke-width="1"/>
<line x1="257" y1="263" x2="1071" y2="263" stroke="#c060a0" stroke-width="1"/>
<line x1="257" y1="239" x2="1071" y2="239" stroke="#c060a0" stroke-width="1"/>
<line x1="257" y1="215" x2="1071" y2="215" stroke="#c060a0" stroke-width="1"/>
<line x1="257" y1="191" x2="1071" y2="191" stroke="#c060a0" stroke-width="1"/>
<line x1="257" y1="167" x2="1071" y2="167" stroke="#c060a0" stroke-width="1"/>
<line x1="286.1" y1="166" x2="286.1" y2="459" stroke="#b090b0" stroke-width="1"/>
<line x1="320.0" y1="166" x2="320.0" y2="459" stroke="#b090b0" stroke-width="1"/>
<line x1="353.9" y1="166" x2="353.9" y2="459" stroke="#b090b0" stroke-width="1"/>
<line x1="387.8" y1="166" x2="387.8" y2="461" stroke="#e06080" stroke-width="1"/>
<line x1="421.7" y1="166" x2="421.7" y2="459" stroke="#b090b0" stroke-width="1"/>
<line x1="455.6" y1="166" x2="455.6" y2="459" stroke="#b090b0" stroke-width="1"/>
<line x1="489.5" y1="166" x2="489.5" y2="459" stroke="#b090b0" stroke-width="1"/>
<line x1="523.4" y1="166" x2="523.4" y2="459" stroke="#b090b0" stroke-width="1"/>
<line x1="557.3" y1="166" x2="557.3" y2="459" stroke="#b090b0" stroke-width="1"/>
<line x1="591.2" y1="166" x2="591.2" y2="461" stroke="#e06080" stroke-width="1"/>
<line x1="625.1" y1="166" x2="625.1" y2="459" stroke="#b090b0" stroke-width="1"/>
<line x1="659.0" y1="166" x2="659.0" y2="459" stroke="#b090b0" stroke-width="1"/>
<line x1="692.9" y1="166" x2="692.9" y2="459" stroke="#b090b0" stroke-width="1"/>
<line x1="726.8" y1="166" x2="726.8" y2="459" stroke="#b090b0" stroke-width="1"/>
<line x1="760.7" y1="166" x2="760.7" y2="459" stroke="#b090b0" stroke-width="1"/>
<line x1="794.6" y1="166" x2="794.6" y2="461" stroke="#e06080" stroke-width="1"/>
<line x1="828.5" y1="166" x2="828.5" y2="459" stroke="#b090b0" stroke-width="1"/>
<line x1="862.4" y1="166" x2="862.4" y2="459" stroke="#b090b0" stroke-width="1"/>
<line x1="896.3" y1="166" x2="896.3" y2="459" stroke="#b090b0" stroke-width="1"/>
<line x1="930.2" y1="166" x2="930.2" y2="459" stroke="#b090b0" stroke-width="1"/>
<line x1="964.1" y1="166" x2="964.1" y2="459" stroke="#b090b0" stroke-width="1"/>
<line x1="998.0" y1="166" x2="998.0" y2="461" stroke="#e06080" stroke-width="1"/>
<line x1="1031.9" y1="166" x2="1031.9" y2="459" stroke="#b090b0" stroke-width="1"/>
<line x1="1065.8" y1="166" x2="1065.8" y2="459" stroke="#b090b0" stroke-width="1"/></g>
<polyline points="257.5,260.8 260.3,260.8 260.8,277.5 264.8,277.5 264.8,196.7 266.4,196.7 266.4,275.0 267.4,275.0 267.4,277.5 268.3,277.5 270.0,277.5 270.0,278.8 273.3,278.8 273.3,280.0 275.0,280.0 275.5,276.7 277.0,276.7 277.5,286.7 279.0,286.7 279.5,276.0 280.0,263.3 285.0,263.3 285.8,285.8 287.1,285.8 287.1,300.0 288.3,300.0 289.1,300.0 289.1,311.7 290.0,311.7 291.6,311.7 291.6,305.0 293.3,305.0 294.6,305.0 294.6,318.3 295.8,318.3 300.0,317.0 301.7,317.0 301.7,316.0 305.0,316.0 305.0,315.0 306.7,315.0 307.5,319.0 308.3,295.0 310.0,295.0 310.9,295.0 310.9,305.0 311.7,305.0 312.9,305.0 312.9,310.0 315.4,310.0 315.4,315.0 316.7,315.0 318.4,315.0 318.4,298.3 320.0,298.3 321.5,298.3 322.5,315.0 325.0,315.0 325.9,315.0 325.9,326.7 326.7,326.7 327.5,326.7 328.3,300.0 329.1,300.0 329.1,298.0 330.0,298.0 331.2,298.0 331.2,283.3 332.5,283.3 334.0,283.3 335.0,296.7 335.9,296.7 335.9,305.0 336.7,305.0 339.0,305.0 339.9,305.0 339.9,298.3 340.8,298.3 342.0,298.3 342.5,310.0 343.8,310.0 343.8,310.6 346.2,310.6 346.2,311.1 348.8,311.1 348.8,311.7 350.0,311.7 350.5,305.0 351.9,305.0 351.9,310.0 353.3,310.0 354.6,310.0 354.6,314.1 357.1,314.1 357.1,318.3 358.3,318.3 360.0,318.3 360.0,319.1 363.3,319.1 363.3,320.0 365.0,320.0 366.2,320.0 366.2,300.0 367.5,300.0 369.6,300.0 369.6,295.0 371.7,295.0 373.4,295.0 373.4,303.0 375.0,303.0 376.6,303.0 376.6,300.0 378.3,300.0 379.6,300.0 379.6,304.1 382.1,304.1 382.1,308.3 383.3,308.3 385.0,308.3 385.0,318.3 386.7,318.3 388.4,318.3 388.4,315.0 390.0,315.0 391.6,315.0 391.6,308.3 393.3,308.3 395.0,308.3 395.0,315.0 396.7,315.0 397.9,315.0 397.9,313.4 400.4,313.4 400.4,311.7 401.7,311.7 402.9,311.7 402.9,328.3 404.2,328.3 406.0,328.3 406.8,328.3 406.8,321.7 407.5,321.7 408.4,321.7 408.4,301.7 409.2,301.7 410.4,301.7 410.4,300.9 412.9,300.9 412.9,300.0 414.2,300.0 415.0,300.0 415.0,253.3 415.8,253.3 418.3,252.5 419.1,252.5 419.1,270.0 420.0,270.0 421.6,270.0 421.6,273.3 423.3,273.3 425.0,273.3 425.0,275.0 426.7,275.0 427.9,275.0 427.9,256.7 429.2,256.7 431.2,256.7 431.2,245.0 433.3,245.0 434.1,245.0 434.1,248.0 435.0,248.0 435.8,265.0 437.0,265.0 438.0,250.0 439.4,250.0 439.4,248.3 440.8,248.3 441.7,270.0 443.1,270.0 443.1,270.9 446.1,270.9 446.1,271.7 447.5,271.7 449.2,271.7 449.2,280.0 452.5,280.0 452.5,288.3 454.2,288.3 455.4,288.3 455.4,260.0 456.7,260.0 461.7,259.2 462.9,259.2 462.9,287.5 464.2,287.5 465.4,287.5 465.4,288.8 467.9,288.8 467.9,290.0 469.2,290.0 470.4,290.0 470.4,308.3 471.7,308.3 472.8,378.5" fill="none" stroke="#e8005c" stroke-width="2.7" stroke-linejoin="miter"/>
<polyline points="257.5,344.2 260.5,344.2 261.0,350.0 264.8,350.0 264.8,310.8 266.4,310.8 266.4,351.7 270.0,353.0 271.7,353.0 271.7,354.0 275.0,354.0 275.0,355.0 276.7,355.0 277.5,358.3 279.0,358.3 279.9,358.3 279.9,345.8 280.8,345.8 285.0,345.8 285.8,360.0 287.5,360.0 287.5,367.5 289.2,367.5 291.2,367.5 291.2,370.0 293.3,370.0 294.6,370.0 294.6,375.8 295.8,375.8 306.7,375.0 307.5,375.0 307.5,364.2 308.3,364.2 310.0,364.2 310.0,368.3 311.7,368.3 312.9,368.3 312.9,370.8 315.4,370.8 315.4,373.3 316.7,373.3 318.8,373.3 318.8,365.8 320.8,365.8 322.1,365.8 322.1,373.3 323.3,373.3 325.0,373.3 325.0,380.0 326.7,380.0 327.5,380.0 327.5,368.3 328.3,368.3 330.4,368.3 330.4,357.5 332.5,357.5 333.8,357.5 333.8,365.0 335.0,365.0 340.8,365.8 342.1,365.8 342.1,370.0 343.3,370.0 345.0,370.0 345.0,368.8 348.3,368.8 348.3,367.5 350.0,367.5 351.6,367.5 351.6,371.7 353.3,371.7 354.6,371.7 354.6,373.4 357.1,373.4 357.1,375.0 358.3,375.0 360.0,375.0 360.0,376.6 363.3,376.6 363.3,378.3 365.0,378.3 366.2,378.3 366.2,364.2 367.5,364.2 371.7,363.3 372.9,363.3 372.9,365.0 375.4,365.0 375.4,366.7 376.7,366.7 378.4,366.7 378.4,368.4 381.6,368.4 381.6,370.0 383.3,370.0 385.0,370.0 385.0,375.8 386.7,375.8 388.4,375.8 388.4,373.8 391.6,373.8 391.6,371.7 393.3,371.7 395.0,371.7 395.0,372.5 398.3,372.5 398.3,373.3 400.0,373.3 402.1,373.3 402.1,382.5 404.2,382.5 406.2,382.5 406.2,367.5 408.3,367.5 414.2,366.7 415.0,366.7 415.0,341.7 415.8,341.7 419.2,341.7 420.0,341.7 420.0,352.5 420.8,352.5 425.0,353.3 427.1,353.3 427.1,341.7 429.2,341.7 431.2,341.7 431.2,336.7 433.3,336.7 435.0,336.7 435.0,338.4 438.3,338.4 438.3,340.0 440.0,340.0 441.2,340.0 441.2,351.7 442.5,351.7 443.8,351.7 443.8,352.5 446.2,352.5 446.2,353.3 447.5,353.3 449.2,353.3 449.2,357.5 452.5,357.5 452.5,361.7 454.2,361.7 456.2,361.7 456.2,344.2 458.3,344.2 460.4,344.2 460.4,346.7 462.5,346.7 463.8,346.7 463.8,358.3 465.0,358.3 466.2,358.3 466.2,360.4 468.8,360.4 468.8,362.5 470.0,362.5 471.6,362.5 471.6,378.3 473.3,378.3 474.6,378.3 474.6,380.0 475.8,380.0 477.5,380.0 477.5,370.0 479.2,370.0 483.3,370.0 485.0,370.0 485.0,360.8 486.7,360.8 493.3,360.8 493.3,339.2 495.0,339.2 495.9,339.2 495.9,363.3 496.7,363.3 501.7,362.5 503.4,362.5 503.4,370.0 505.0,370.0 506.2,370.0 506.2,371.6 508.8,371.6 508.8,373.3 510.0,373.3 511.7,373.3 511.7,371.6 515.0,371.6 515.0,370.0 516.7,370.0 522.5,369.2 523.8,369.2 523.8,373.3 525.0,373.3 526.6,373.3 526.6,363.3 528.3,363.3 538.3,363.3 539.1,363.3 539.1,373.3 540.0,373.3 551.7,373.3 552.5,373.3 552.5,365.0 553.3,365.0 559.2,365.0 560.0,373.3 565.0,374.2 567.1,374.2 567.1,367.5 569.2,367.5 570.9,367.5 570.9,330.8 572.5,330.8 574.6,330.8 574.6,332.5 576.7,332.5 578.0,332.5 578.0,340.0 579.2,340.0 580.5,340.0 580.5,353.3 581.7,353.3 583.4,353.3 583.4,364.2 585.0,364.2 589.2,364.2 590.0,345.0 591.2,345.0 591.2,327.5 592.5,327.5 595.0,327.5 595.9,327.5 595.9,350.0 596.7,350.0 598.4,350.0 598.4,345.8 600.0,345.8 603.3,345.0 604.5,345.0 604.5,351.7 605.8,351.7 607.3,351.7 607.3,355.0 610.2,355.0 610.2,358.3 611.7,358.3 616.7,359.2 617.5,359.2 617.5,350.8 618.3,350.8 620.0,350.8 620.0,356.7 621.7,356.7 626.7,357.5 628.4,357.5 628.4,340.8 630.0,340.8 631.2,340.8 631.2,350.0 632.5,350.0 637.5,350.8 641.7,350.8 642.5,350.8 642.5,359.2 643.3,359.2 648.3,360.0 650.0,360.0 650.0,335.8 651.7,335.8 653.0,335.8 653.0,336.6 655.5,336.6 655.5,337.5 656.7,337.5 658.8,337.5 658.8,343.3 660.8,343.3 662.9,343.3 662.9,348.3 665.0,348.3 666.2,348.3 666.2,352.1 668.8,352.1 668.8,355.8 670.0,355.8 672.1,355.8 672.1,360.8 674.2,360.8 675.5,360.8 675.5,359.6 678.0,359.6 678.0,358.3 679.2,358.3 681.2,358.3 681.2,362.5 683.3,362.5 684.7,362.5 684.7,361.4 687.5,361.4 687.5,360.3 690.3,360.3 690.3,359.2 691.7,359.2 693.0,359.2 693.0,373.3 694.2,373.3 695.5,373.3 695.5,378.3 696.7,378.3 703.3,377.5 704.7,377.5 704.7,376.1 707.5,376.1 707.5,374.7 710.3,374.7 710.3,373.3 711.7,373.3 713.8,373.3 713.8,367.5 715.8,367.5 717.0,367.5 717.0,371.7 718.3,371.7 719.1,371.7 719.1,381.7 720.0,381.7 721.7,381.7 721.7,384.2 725.0,384.2 725.0,386.7 726.7,386.7 728.4,386.7 728.4,388.3 730.0,388.3 731.2,388.3 731.2,381.7 732.5,381.7 733.8,381.7 733.8,380.6 736.2,380.6 736.2,379.4 738.8,379.4 738.8,378.3 740.0,378.3 741.5,378.3 741.5,377.5 744.3,377.5 744.3,376.7 745.8,376.7 750.8,377.5 752.5,377.5 752.5,380.8 754.2,380.8 755.0,400.0 760.0,400.0 760.8,378.3 762.0,378.3 762.0,390.0 763.3,390.0 765.0,390.0 765.0,400.0 766.7,400.0 768.0,400.0 768.0,398.4 770.5,398.4 770.5,396.7 771.7,396.7 773.4,396.7 773.4,401.7 775.0,401.7 776.6,401.7 776.6,392.5 778.3,392.5 780.0,392.5 780.0,400.0 781.7,400.0 783.4,400.0 783.4,395.8 785.0,395.8 791.7,395.0 793.0,395.0 793.0,364.2 794.2,364.2 795.9,364.2 795.9,367.5 797.5,367.5 798.8,367.5 798.8,378.3 800.0,378.3 802.1,378.3 802.1,385.0 804.2,385.0 805.5,385.0 805.5,386.7 806.7,386.7 808.4,386.7 808.4,396.7 810.0,396.7 811.5,396.7 811.5,389.2 814.3,389.2 814.3,381.7 815.8,381.7 820.8,381.7 822.9,381.7 822.9,386.7 825.0,386.7 826.6,386.7 826.6,400.0 828.3,400.0 829.5,400.0 829.5,396.6 832.0,396.6 832.0,393.3 833.3,393.3 835.0,393.3 835.0,386.7 836.7,386.7 838.4,386.7 838.4,384.6 841.6,384.6 841.6,382.5 843.3,382.5 844.5,382.5 844.5,384.1 847.0,384.1 847.0,385.8 848.3,385.8 853.3,385.0 854.5,385.0 854.5,375.0 855.8,375.0 857.0,375.0 857.0,386.7 858.3,386.7 860.0,386.7 860.0,385.9 863.3,385.9 863.3,385.0 865.0,385.0 866.2,385.0 866.2,386.6 868.8,386.6 868.8,388.3 870.0,388.3 871.2,388.3 871.2,385.4 873.8,385.4 873.8,382.5 875.0,382.5 876.6,382.5 876.6,387.5 878.3,387.5 880.0,387.5 880.0,388.4 883.3,388.4 883.3,389.2 885.0,389.2 886.2,389.2 886.2,392.9 888.8,392.9 888.8,396.7 890.0,396.7 891.2,396.7 891.2,398.4 893.8,398.4 893.8,400.0 895.0,400.0 900.0,400.0 901.7,400.0 901.7,398.4 905.0,398.4 905.0,396.7 906.7,396.7 908.4,396.7 908.4,397.9 911.6,397.9 911.6,399.2 913.3,399.2 914.5,399.2 914.5,400.4 917.0,400.4 917.0,401.7 918.3,401.7 919.5,401.7 919.5,394.2 922.0,394.2 922.0,386.7 923.3,386.7 930.0,387.5 931.6,387.5 931.6,393.3 933.3,393.3 934.5,393.3 934.5,363.3 935.8,363.3 939.2,363.3 940.0,381.7 941.6,381.7 941.6,388.3 943.3,388.3 945.0,388.3 945.0,395.0 946.7,395.0 953.3,395.0 955.0,395.0 955.0,381.7 956.7,381.7 959.0,381.7 960.4,381.7 960.4,390.8 961.7,390.8 966.7,391.7 968.4,391.7 968.4,388.8 971.6,388.8 971.6,385.8 973.3,385.8 980.0,385.8 981.6,385.8 981.6,391.7 983.3,391.7 984.5,391.7 984.5,386.7 987.0,386.7 987.0,381.7 988.3,381.7 989.5,381.7 989.5,383.8 992.0,383.8 992.0,385.8 993.3,385.8 995.0,385.8 995.0,354.2 996.7,354.2 1003.3,355.0 1005.0,355.0 1005.0,361.7 1006.7,361.7 1008.4,361.7 1008.4,364.2 1011.6,364.2 1011.6,366.7 1013.3,366.7 1015.0,366.7 1015.0,368.4 1018.3,368.4 1018.3,370.0 1020.0,370.0 1021.7,370.0 1021.7,370.9 1025.0,370.9 1025.0,371.7 1026.7,371.7 1028.0,371.7 1028.0,365.0 1030.5,365.0 1030.5,358.3 1031.7,358.3 1035.8,358.3 1037.0,358.3 1037.0,368.3 1038.3,368.3 1040.4,368.3 1040.4,373.3 1042.5,373.3 1043.3,373.3 1043.3,308.3 1044.2,308.3 1045.8,308.3 1045.8,306.7 1047.5,306.7 1048.3,306.7 1048.3,331.7 1049.2,331.7 1051.2,331.7 1051.2,345.0 1053.3,345.0 1054.5,345.0 1054.5,348.4 1057.0,348.4 1057.0,351.7 1058.3,351.7 1062.5,351.7 1064.2,351.7 1064.2,356.7 1065.8,356.7" fill="none" stroke="#da00f4" stroke-width="2.7"/>
<polyline points="257.5,360.8 260.5,360.8 261.0,366.7 264.8,366.7 264.8,327.5 266.4,327.5 266.4,369.2 270.0,370.0 271.7,370.0 271.7,371.6 275.0,371.6 275.0,373.3 276.7,373.3 277.5,376.7 279.0,376.7 280.4,376.7 280.4,364.2 281.7,364.2 285.0,364.2 285.8,373.3 287.5,373.3 287.5,386.7 289.2,386.7 291.2,386.7 291.2,384.2 293.3,384.2 294.6,384.2 294.6,390.0 295.8,390.0 306.7,390.8 307.5,390.8 307.5,380.8 308.3,380.8 310.0,380.8 310.0,385.0 311.7,385.0 312.9,385.0 312.9,385.9 315.4,385.9 315.4,386.7 316.7,386.7 318.8,386.7 318.8,380.8 320.8,380.8 322.1,380.8 322.1,388.3 323.3,388.3 325.0,388.3 325.0,395.0 326.7,395.0 327.5,395.0 327.5,381.7 328.3,381.7 330.4,381.7 330.4,373.3 332.5,373.3 333.8,373.3 333.8,381.7 335.0,381.7 340.8,380.8 342.1,380.8 342.1,385.0 343.3,385.0 350.0,384.2 351.6,384.2 351.6,388.3 353.3,388.3 354.6,388.3 354.6,389.6 357.1,389.6 357.1,390.8 358.3,390.8 365.0,390.0 366.2,390.0 366.2,380.0 367.5,380.0 369.6,380.0 369.6,381.7 371.7,381.7 372.9,381.7 372.9,382.9 375.4,382.9 375.4,384.2 376.7,384.2 378.4,384.2 378.4,385.4 381.6,385.4 381.6,386.7 383.3,386.7 385.0,386.7 385.0,390.0 386.7,390.0 388.4,390.0 388.4,387.9 391.6,387.9 391.6,385.8 393.3,385.8 395.0,385.8 395.0,387.1 398.3,387.1 398.3,388.3 400.0,388.3 402.1,388.3 402.1,395.0 404.2,395.0 406.2,395.0 406.2,383.3 408.3,383.3 409.8,383.3 409.8,382.5 412.7,382.5 412.7,381.7 414.2,381.7 415.0,381.7 415.0,357.5 415.8,357.5 419.2,358.3 420.0,358.3 420.0,366.7 420.8,366.7 422.9,366.7 422.9,371.7 425.0,371.7 427.1,371.7 427.1,362.5 429.2,362.5 431.2,362.5 431.2,357.5 433.3,357.5 435.0,357.5 435.0,358.8 438.3,358.8 438.3,360.0 440.0,360.0 441.2,360.0 441.2,368.3 442.5,368.3 447.5,369.2 449.2,369.2 449.2,373.8 452.5,373.8 452.5,378.3 454.2,378.3 456.2,378.3 456.2,363.3 458.3,363.3 460.4,363.3 460.4,365.0 462.5,365.0 463.8,365.0 463.8,376.7 465.0,376.7 466.2,376.7 466.2,377.9 468.8,377.9 468.8,379.2 470.0,379.2 471.6,379.2 471.6,390.8 473.3,390.8 474.6,390.8 474.6,393.3 475.8,393.3 477.5,393.3 477.5,385.0 479.2,385.0 483.3,385.0 485.0,385.0 485.0,376.7 486.7,376.7 493.3,376.7 493.3,363.3 495.0,363.3 495.9,363.3 495.9,385.0 496.7,385.0 497.9,385.0 497.9,382.5 500.4,382.5 500.4,380.0 501.7,380.0 503.4,380.0 503.4,385.0 505.0,385.0 506.2,385.0 506.2,387.1 508.8,387.1 508.8,389.2 510.0,389.2 511.7,389.2 511.7,387.1 515.0,387.1 515.0,385.0 516.7,385.0 518.2,385.0 518.2,385.9 521.0,385.9 521.0,386.7 522.5,386.7 523.8,386.7 523.8,388.3 525.0,388.3 526.6,388.3 526.6,378.3 528.3,378.3 529.5,378.3 529.5,378.7 532.0,378.7 532.0,379.1 534.5,379.1 534.5,379.6 537.0,379.6 537.0,380.0 538.3,380.0 539.1,380.0 539.1,388.3 540.0,388.3 551.7,388.3 552.5,388.3 552.5,383.3 553.3,383.3 554.8,383.3 554.8,381.6 557.7,381.6 557.7,380.0 559.2,380.0 560.5,380.0 560.5,391.7 561.7,391.7 565.0,390.8 567.1,390.8 567.1,380.0 569.2,380.0 570.9,380.0 570.9,351.7 572.5,351.7 574.6,351.7 574.6,354.2 576.7,354.2 578.0,354.2 578.0,366.7 579.2,366.7 580.5,366.7 580.5,368.3 581.7,368.3 583.4,368.3 583.4,377.5 585.0,377.5 589.2,377.5 590.0,358.3 591.2,358.3 591.2,344.2 592.5,344.2 593.8,344.2 593.8,348.3 595.0,348.3 596.2,348.3 596.2,371.7 597.5,371.7 598.8,371.7 598.8,365.0 600.0,365.0 601.6,365.0 601.6,363.3 603.3,363.3 604.5,363.3 604.5,366.7 605.8,366.7 607.3,366.7 607.3,370.0 610.2,370.0 610.2,373.3 611.7,373.3 613.0,373.3 613.0,374.1 615.5,374.1 615.5,375.0 616.7,375.0 617.5,375.0 617.5,366.7 618.3,366.7 620.0,366.7 620.0,375.0 621.7,375.0 623.0,375.0 623.0,375.9 625.5,375.9 625.5,376.7 626.7,376.7 628.4,376.7 628.4,363.3 630.0,363.3 631.2,363.3 631.2,371.7 632.5,371.7 633.8,371.7 633.8,372.5 636.2,372.5 636.2,373.3 637.5,373.3 639.6,373.3 639.6,371.7 641.7,371.7 642.5,371.7 642.5,376.7 643.3,376.7 644.5,376.7 644.5,375.9 647.0,375.9 647.0,375.0 648.3,375.0 650.0,375.0 650.0,351.7 651.7,351.7 656.7,351.7 658.8,351.7 658.8,360.8 660.8,360.8 662.9,360.8 662.9,366.7 665.0,366.7 666.2,366.7 666.2,370.0 668.8,370.0 668.8,373.3 670.0,373.3 672.1,373.3 672.1,384.2 674.2,384.2 675.5,384.2 675.5,380.4 678.0,380.4 678.0,376.7 679.2,376.7 681.2,376.7 681.2,375.0 683.3,375.0 691.7,374.2 693.0,374.2 693.0,390.0 694.2,390.0 696.7,390.8 698.0,390.8 698.0,394.1 700.5,394.1 700.5,397.5 701.7,397.5 703.0,397.5 703.0,395.0 705.5,395.0 705.5,392.5 706.7,392.5 708.0,392.5 708.0,390.4 710.5,390.4 710.5,388.3 711.7,388.3 713.8,388.3 713.8,381.7 715.8,381.7 717.0,381.7 717.0,385.0 718.3,385.0 719.1,385.0 719.1,393.3 720.0,393.3 721.7,393.3 721.7,395.8 725.0,395.8 725.0,398.3 726.7,398.3 728.4,398.3 728.4,400.8 730.0,400.8 731.2,400.8 731.2,396.7 732.5,396.7 733.8,396.7 733.8,395.3 736.2,395.3 736.2,393.9 738.8,393.9 738.8,392.5 740.0,392.5 741.5,392.5 741.5,391.6 744.3,391.6 744.3,390.8 745.8,390.8 751.7,390.0 753.0,390.0 753.0,403.3 754.2,403.3 759.2,403.3 760.0,403.3 760.0,388.3 760.8,388.3 762.0,388.3 762.0,400.0 763.3,400.0 765.0,400.0 765.0,410.0 766.7,410.0 768.0,410.0 768.0,407.5 770.5,407.5 770.5,405.0 771.7,405.0 773.0,405.0 773.0,407.9 775.5,407.9 775.5,410.8 776.7,410.8 778.0,410.8 778.0,407.9 780.5,407.9 780.5,405.0 781.7,405.0 783.0,405.0 783.0,406.6 785.5,406.6 785.5,408.3 786.7,408.3 788.2,408.3 788.2,405.8 791.0,405.8 791.0,403.3 792.5,403.3 793.4,403.3 793.4,375.0 794.2,375.0 796.2,375.0 796.2,377.5 798.3,377.5 799.5,377.5 799.5,399.2 800.8,399.2 804.2,398.3 805.5,398.3 805.5,403.3 806.7,403.3 811.7,404.2 813.8,404.2 813.8,391.7 815.8,391.7 820.8,392.5 822.9,392.5 822.9,405.0 825.0,405.0 826.2,405.0 826.2,407.9 828.8,407.9 828.8,410.8 830.0,410.8 831.6,410.8 831.6,400.0 833.3,400.0 835.0,400.0 835.0,398.3 836.7,398.3 838.4,398.3 838.4,395.8 841.6,395.8 841.6,393.3 843.3,393.3 845.4,393.3 845.4,401.7 847.5,401.7 849.0,401.7 849.0,399.2 851.8,399.2 851.8,396.7 853.3,396.7 854.5,396.7 854.5,386.7 855.8,386.7 857.0,386.7 857.0,401.7 858.3,401.7 860.0,401.7 860.0,399.6 863.3,399.6 863.3,397.5 865.0,397.5 866.2,397.5 866.2,398.8 868.8,398.8 868.8,400.0 870.0,400.0 871.2,400.0 871.2,397.1 873.8,397.1 873.8,394.2 875.0,394.2 876.6,394.2 876.6,401.7 878.3,401.7 880.0,401.7 880.0,402.5 883.3,402.5 883.3,403.3 885.0,403.3 886.2,403.3 886.2,405.0 888.8,405.0 888.8,406.7 890.0,406.7 892.1,406.7 892.1,410.8 894.2,410.8 895.7,410.8 895.7,410.0 898.5,410.0 898.5,409.2 900.0,409.2 906.7,408.3 908.4,408.3 908.4,409.1 911.6,409.1 911.6,410.0 913.3,410.0 918.3,410.8 920.0,410.8 920.0,405.0 921.7,405.0 923.2,405.0 923.2,403.8 926.0,403.8 926.0,402.5 929.0,402.5 929.0,401.2 931.8,401.2 931.8,400.0 933.3,400.0 935.0,400.0 935.0,375.0 936.7,375.0 938.8,375.0 938.8,381.7 940.8,381.7 942.9,381.7 942.9,401.7 945.0,401.7 946.6,401.7 946.6,408.3 948.3,408.3 949.5,408.3 949.5,405.0 952.0,405.0 952.0,401.7 953.3,401.7 955.0,401.7 955.0,393.3 956.7,393.3 958.4,393.3 958.4,408.3 960.0,408.3 961.6,408.3 961.6,401.7 963.3,401.7 965.0,401.7 965.0,403.8 968.3,403.8 968.3,405.8 970.0,405.8 971.2,405.8 971.2,402.9 973.8,402.9 973.8,400.0 975.0,400.0 981.7,400.0 982.5,400.0 982.5,408.3 983.3,408.3 985.0,408.3 985.0,400.8 988.3,400.8 988.3,393.3 990.0,393.3 991.5,393.3 991.5,394.1 994.3,394.1 994.3,395.0 995.8,395.0 996.6,395.0 996.6,371.7 997.5,371.7 1003.3,371.7 1005.0,371.7 1005.0,380.0 1006.7,380.0 1008.4,380.0 1008.4,380.9 1011.6,380.9 1011.6,381.7 1013.3,381.7 1015.0,381.7 1015.0,390.0 1016.7,390.0 1023.3,390.0 1024.5,390.0 1024.5,385.9 1027.0,385.9 1027.0,381.7 1028.3,381.7 1030.0,381.7 1030.0,371.7 1031.7,371.7 1033.8,371.7 1033.8,373.3 1035.8,373.3 1037.0,373.3 1037.0,385.0 1038.3,385.0 1042.5,385.0 1043.3,385.0 1043.3,323.3 1044.2,323.3 1045.5,323.3 1045.5,325.0 1046.7,325.0 1047.5,325.0 1047.5,350.0 1048.3,350.0 1049.5,350.0 1049.5,355.9 1052.0,355.9 1052.0,361.7 1053.3,361.7 1054.5,361.7 1054.5,371.7 1055.8,371.7 1057.3,371.7 1057.3,370.0 1060.2,370.0 1060.2,368.3 1061.7,368.3 1063.8,368.3 1063.8,373.3 1065.8,373.3" fill="none" stroke="#5408ec" stroke-width="2.7"/>
<rect x="257" y="452.5" width="809" height="2" fill="#e8a070"/>
<rect x="257" y="454.5" width="814" height="2.2" fill="#a8683a"/>
<rect x="688" y="452.5" width="8" height="2" fill="#70d060"/>
<rect x="700" y="452.5" width="7" height="2" fill="#70d060"/>
<rect x="983" y="452" width="32" height="2.5" fill="#f49050"/>
<rect x="1020" y="452" width="12" height="2.5" fill="#70d060"/>
<rect x="1032" y="452" width="34" height="2.5" fill="#f49050"/>
<rect x="256" y="145.5" width="6" height="1.8" fill="#333"/>
<rect x="529" y="145.5" width="4" height="1.8" fill="#444"/>
<rect x="591.5" y="145.5" width="17" height="1.8" fill="#444"/>
<line x1="257" y1="157" x2="257" y2="461" stroke="#707070" stroke-width="2"/>
<line x1="251" y1="455" x2="1074" y2="455" stroke="#707070" stroke-width="0"/>
<polygon points="252,163.5 262,163.5 257,155" fill="#8a1020"/>
<polygon points="1072,450 1072,460 1082,455" fill="#8a1020"/>
<text x="184" y="461.2" class="yl" textLength="37" lengthAdjust="spacingAndGlyphs">0.0</text>
<text x="184" y="437.2" class="yl" textLength="62" lengthAdjust="spacingAndGlyphs">0.1 k</text>
<text x="184" y="413.2" class="yl" textLength="62" lengthAdjust="spacingAndGlyphs">0.2 k</text>
<text x="184" y="389.2" class="yl" textLength="62" lengthAdjust="spacingAndGlyphs">0.3 k</text>
<text x="184" y="365.2" class="yl" textLength="62" lengthAdjust="spacingAndGlyphs">0.4 k</text>
<text x="184" y="341.2" class="yl" textLength="62" lengthAdjust="spacingAndGlyphs">0.5 k</text>
<text x="184" y="317.2" class="yl" textLength="62" lengthAdjust="spacingAndGlyphs">0.6 k</text>
<text x="184" y="293.2" class="yl" textLength="62" lengthAdjust="spacingAndGlyphs">0.7 k</text>
<text x="184" y="269.2" class="yl" textLength="62" lengthAdjust="spacingAndGlyphs">0.8 k</text>
<text x="184" y="245.2" class="yl" textLength="62" lengthAdjust="spacingAndGlyphs">0.9 k</text>
<text x="184" y="221.2" class="yl" textLength="62" lengthAdjust="spacingAndGlyphs">1.0 k</text>
<text x="184" y="197.2" class="yl" textLength="62" lengthAdjust="spacingAndGlyphs">1.1 k</text>
<text x="184" y="173.2" class="yl" textLength="62" lengthAdjust="spacingAndGlyphs">1.2 k</text>
<line x1="249" y1="455.5" x2="257" y2="455.5" stroke="#555" stroke-width="1.2"/>
<line x1="252" y1="455" x2="257" y2="455" stroke="#c0a8a8" stroke-width="1"/>
<line x1="252" y1="431" x2="257" y2="431" stroke="#c0a8a8" stroke-width="1"/>
<line x1="252" y1="407" x2="257" y2="407" stroke="#c0a8a8" stroke-width="1"/>
<line x1="252" y1="383" x2="257" y2="383" stroke="#c0a8a8" stroke-width="1"/>
<line x1="252" y1="359" x2="257" y2="359" stroke="#c0a8a8" stroke-width="1"/>
<line x1="252" y1="335" x2="257" y2="335" stroke="#c0a8a8" stroke-width="1"/>
<line x1="252" y1="311" x2="257" y2="311" stroke="#c0a8a8" stroke-width="1"/>
<line x1="252" y1="287" x2="257" y2="287" stroke="#c0a8a8" stroke-width="1"/>
<line x1="252" y1="263" x2="257" y2="263" stroke="#c0a8a8" stroke-width="1"/>
<line x1="252" y1="239" x2="257" y2="239" stroke="#c0a8a8" stroke-width="1"/>
<line x1="252" y1="215" x2="257" y2="215" stroke="#c0a8a8" stroke-width="1"/>
<line x1="252" y1="191" x2="257" y2="191" stroke="#c0a8a8" stroke-width="1"/>
<line x1="252" y1="167" x2="257" y2="167" stroke="#c0a8a8" stroke-width="1"/>
<text x="0" y="0" class="yl" style="font-size:25px;stroke-width:0.6;fill:#505050;stroke:#505050" transform="translate(151.5,355) rotate(-90)" textLength="90" lengthAdjust="spacingAndGlyphs">Issues/s</text>
<text x="537.5" y="474" class="xl" textLength="112.5" lengthAdjust="spacingAndGlyphs">Wed 12:00</text>
<text x="945.5" y="474" class="xl" textLength="109" lengthAdjust="spacingAndGlyphs">Thu 00:00</text>
<text x="0" y="0" font-family="Liberation Mono" font-weight="bold" font-size="17" fill="#9c9c9c" transform="translate(1107.5,143) rotate(90)" textLength="163" lengthAdjust="spacingAndGlyphs">TOOL / TOBI OETIKER</text>
<rect x="1125.5" y="146" width="1.5" height="650" fill="#b0b0b0"/>
<rect x="1127" y="146" width="2.5" height="650" fill="#858585"/>
<rect x="1129.5" y="146" width="1.5" height="650" fill="#c8c8c8"/>
<rect x="153.5" y="490.4" width="16.5" height="15" fill="#ff0000" stroke="#3a1020" stroke-width="1.6"/>
<text x="182.5" y="504.4" class="lg" textLength="203.0" lengthAdjust="spacingAndGlyphs">admin_commands</text>
<text x="498" y="504.4" class="lg" textLength="638.0" lengthAdjust="spacingAndGlyphs" xml:space="preserve">  66.7m Min,  118.5m Avg,    1.8  Max,   66.</text>
<rect x="153.5" y="513.5" width="16.5" height="15" fill="#ff0028" stroke="#3a1020" stroke-width="1.6"/>
<text x="182.5" y="527.5" class="lg" textLength="72.5" lengthAdjust="spacingAndGlyphs">begin</text>
<text x="498" y="527.5" class="lg" textLength="638.0" lengthAdjust="spacingAndGlyphs" xml:space="preserve">   0.0  Min,   23.2u Avg,   88.9m Max,    0.</text>
<rect x="153.5" y="536.6" width="16.5" height="15" fill="#ff0050" stroke="#3a1020" stroke-width="1.6"/>
<text x="182.5" y="550.6" class="lg" textLength="130.5" lengthAdjust="spacingAndGlyphs">change_db</text>
<text x="498" y="550.6" class="lg" textLength="638.0" lengthAdjust="spacingAndGlyphs" xml:space="preserve">   0.0  Min,   76.6  Avg,  653.7  Max,    0.</text>
<rect x="153.5" y="559.7" width="16.5" height="15" fill="#ff0088" stroke="#3a1020" stroke-width="1.6"/>
<text x="182.5" y="573.7" class="lg" textLength="87.0" lengthAdjust="spacingAndGlyphs">commit</text>
<text x="498" y="573.7" class="lg" textLength="638.0" lengthAdjust="spacingAndGlyphs" xml:space="preserve">   0.0  Min,   23.2u Avg,   88.9m Max,    0.</text>
<rect x="153.5" y="582.8" width="16.5" height="15" fill="#ff00b8" stroke="#3a1020" stroke-width="1.6"/>
<text x="182.5" y="596.8" class="lg" textLength="130.5" lengthAdjust="spacingAndGlyphs">create_db</text>
<text x="498" y="596.8" class="lg" textLength="638.0" lengthAdjust="spacingAndGlyphs" xml:space="preserve">   0.0  Min,    0.0  Avg,    0.0  Max,    0.</text>
<rect x="153.5" y="605.9" width="16.5" height="15" fill="#f800f0" stroke="#3a1020" stroke-width="1.6"/>
<text x="182.5" y="619.9" class="lg" textLength="174.0" lengthAdjust="spacingAndGlyphs">create_table</text>
<text x="498" y="619.9" class="lg" textLength="638.0" lengthAdjust="spacingAndGlyphs" xml:space="preserve">   0.0  Min,    0.0  Avg,    0.0  Max,    0.</text>
<rect x="153.5" y="629.0" width="16.5" height="15" fill="#e000ff" stroke="#3a1020" stroke-width="1.6"/>
<text x="182.5" y="643.0" class="lg" textLength="87.0" lengthAdjust="spacingAndGlyphs">delete</text>
<text x="498" y="643.0" class="lg" textLength="638.0" lengthAdjust="spacingAndGlyphs" xml:space="preserve">   0.0  Min,  160.2m Avg,    2.2  Max,  156.</text>
<rect x="153.5" y="652.1" width="16.5" height="15" fill="#b800f0" stroke="#3a1020" stroke-width="1.6"/>
<text x="182.5" y="666.1" class="lg" textLength="87.0" lengthAdjust="spacingAndGlyphs">insert</text>
<text x="498" y="666.1" class="lg" textLength="638.0" lengthAdjust="spacingAndGlyphs" xml:space="preserve">  29.6  Min,   58.1  Avg,  142.6  Max,   71.</text>
<rect x="153.5" y="675.2" width="16.5" height="15" fill="#8c00f0" stroke="#3a1020" stroke-width="1.6"/>
<text x="182.5" y="689.2" class="lg" textLength="58.0" lengthAdjust="spacingAndGlyphs">kill</text>
<text x="498" y="689.2" class="lg" textLength="638.0" lengthAdjust="spacingAndGlyphs" xml:space="preserve">   0.0  Min,    0.0  Avg,    0.0  Max,    0.</text>
<rect x="153.5" y="698.3" width="16.5" height="15" fill="#6c00f0" stroke="#3a1020" stroke-width="1.6"/>
<text x="182.5" y="712.3" class="lg" textLength="116.0" lengthAdjust="spacingAndGlyphs">optimize</text>
<text x="498" y="712.3" class="lg" textLength="638.0" lengthAdjust="spacingAndGlyphs" xml:space="preserve">   0.0  Min,    0.0  Avg,    0.0  Max,    0.</text>
<rect x="153.5" y="721.4" width="16.5" height="15" fill="#5800f4" stroke="#3a1020" stroke-width="1.6"/>
<text x="182.5" y="735.4" class="lg" textLength="116.0" lengthAdjust="spacingAndGlyphs">rollback</text>
<text x="498" y="735.4" class="lg" textLength="638.0" lengthAdjust="spacingAndGlyphs" xml:space="preserve">   0.0  Min,    0.0  Avg,    0.0  Max,    0.</text>
<rect x="153.5" y="744.5" width="16.5" height="15" fill="#4c00fa" stroke="#3a1020" stroke-width="1.6"/>
<text x="182.5" y="758.5" class="lg" textLength="87.0" lengthAdjust="spacingAndGlyphs">select</text>
<text x="498" y="758.5" class="lg" textLength="638.0" lengthAdjust="spacingAndGlyphs" xml:space="preserve"> 148.6  Min,  290.8  Avg,  725.5  Max,  338.</text>
<rect x="153.5" y="767.6" width="16.5" height="15" fill="#4400ff" stroke="#3a1020" stroke-width="1.6"/>
<text x="182.5" y="781.6" class="lg" textLength="145.0" lengthAdjust="spacingAndGlyphs">set_option</text>
<text x="498" y="781.6" class="lg" textLength="638.0" lengthAdjust="spacingAndGlyphs" xml:space="preserve">   0.0  Min,   10.7m Avg,  644.4m Max,    8.</text>
<rect x="153.5" y="790.7" width="16.5" height="15" fill="#4848ee" stroke="#3a1020" stroke-width="1.6"/>
<text x="182.5" y="804.7" class="lg" textLength="188.5" lengthAdjust="spacingAndGlyphs">show_charsets</text>
<text x="498" y="804.7" class="lg" textLength="638.0" lengthAdjust="spacingAndGlyphs" xml:space="preserve">   0.0  Min,    0.0  Avg,    0.0  Max,    0.</text>
</g></g>
<!-- logo -->
<path d="M1217.5,723 H1440 V788 H1217.5 A32.5,32.5 0 0 1 1217.5,723 Z" fill="#aeaeae"/>
<circle cx="1226" cy="754.7" r="24.7" fill="#ffffff"/>
<circle cx="1226.5" cy="755" r="10.6" fill="none" stroke="#aeaeae" stroke-width="6"/>
<rect x="1223.3" y="734" width="6.5" height="21" rx="3.2" fill="#aeaeae"/>
<text x="1261" y="749.2" font-family="Liberation Sans" font-size="17" fill="#fff" stroke="#fff" stroke-width="0.4" textLength="109" lengthAdjust="spacing">PERCONA</text>
<rect x="1261" y="753.3" width="109" height="1" fill="#8f8f8f"/>
<text x="1283.8" y="774.3" font-family="Liberation Sans" font-weight="bold" font-size="20.5" fill="#fff" textLength="63.5" lengthAdjust="spacing">LIVE</text>
<rect x="1387" y="723" width="1" height="64" fill="#b8b8b8"/>
<text x="1400" y="762" font-family="Liberation Sans" font-size="21.5" fill="#d4d4d4">4</text>
<text x="1400" y="781.8" font-family="Liberation Sans" font-size="21.5" fill="#d4d4d4">0</text>
</svg>
</body></html>
